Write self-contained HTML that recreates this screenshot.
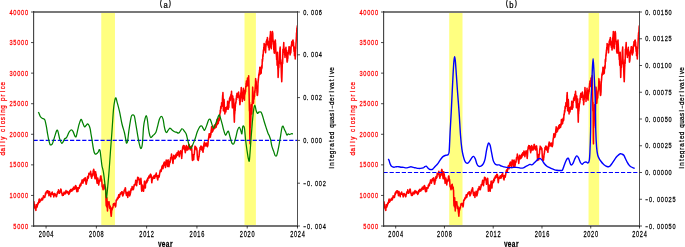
<!DOCTYPE html>
<html><head><meta charset="utf-8"><style>
html,body{margin:0;padding:0;background:#fff;width:685px;height:247px;overflow:hidden}
svg{display:block;will-change:transform}
</style></head><body>
<svg width="685" height="247" viewBox="0 0 685 247"><clipPath id="ca"><rect x="33.5" y="12.0" width="264.0" height="214.0"/></clipPath><rect x="101.26" y="12.0" width="13.7" height="214.0" fill="#ffff80"/><rect x="244.51" y="12.0" width="11.38" height="214.0" fill="#ffff80"/><path clip-path="url(#ca)" d="M33.53 203.95L33.57 203.83L33.67 202.99L33.74 203.44L33.95 201.85L33.98 202.78L34.02 202.98L34.26 204.95L34.29 204.39L34.4 205.46L34.64 207.53L34.67 207.68L34.71 207.35L34.95 207.67L34.98 208.36L35.19 208.72L35.22 207.76L35.26 208.27L35.36 208.59L35.39 208.28L35.64 209.09L35.67 209.7L35.88 210.37L35.95 209.01L35.98 208.04L36.22 204.45L36.32 205.4L36.57 207.6L36.6 207.59L36.63 207.57L36.94 206.14L37.05 206.63L37.12 206.96L37.19 205.83L37.29 206.17L37.32 205.84L37.6 204.54L37.63 204.51L37.67 204.97L37.87 203.37L37.91 203.75L38.01 203.4L38.08 203.43L38.15 202.63L38.25 202.81L38.29 202.85L38.39 203.53L38.56 202.22L38.6 202.69L38.63 202.77L38.87 200.83L38.98 200.56L39.25 199.28L39.29 199.04L39.6 201.24L39.7 202.11L39.8 201.59L39.84 201.66L39.94 201.87L40.25 200.67L40.29 200.93L40.32 200.36L40.56 200.86L40.66 200.62L40.7 200.64L40.91 199.68L40.94 199.82L41.18 200.16L41.22 199.03L41.25 199.4L41.28 199.75L41.42 199.15L41.53 199.92L41.63 199.83L41.87 198.3L41.9 198.61L41.94 198.96L42.15 199.94L42.21 199.38L42.25 199.24L42.49 199.89L42.59 199.26L42.66 198.52L42.73 199.34L42.87 198.7L42.9 198.49L43.18 197.06L43.21 197.43L43.32 197.28L43.45 195.89L43.56 196.45L43.59 196.79L43.69 196L43.87 197.5L43.9 197.33L44.04 197.44L44.18 197.05L44.28 197.37L44.42 196.55L44.52 196.75L44.56 197.11L44.8 197.47L44.87 196.35L44.9 196.97L45.14 195.58L45.24 195.15L45.28 195.39L45.49 193.04L45.52 193.61L45.55 193.52L45.62 194.62L45.83 193.04L45.86 193.21L45.97 193.19L46.04 192.37L46.11 192.47L46.21 191.92L46.24 191.84L46.52 192.73L46.55 192.84L46.83 191.25L46.93 191.07L47.17 192.69L47.2 192.72L47.48 190.82L47.51 190.93L47.55 191.93L47.75 192.33L47.79 191.51L47.89 192.11L48.13 191.05L48.17 191.33L48.2 191.29L48.48 193.7L48.51 192.92L48.75 194.06L48.85 194.71L48.92 195.72L49.16 192.43L49.2 192.44L49.4 192.64L49.47 191.51L49.57 191.76L49.71 193.8L49.82 193.56L49.85 193.5L49.88 192.89L50.16 193.68L50.19 194.02L50.4 194.94L50.43 194.83L50.54 195.43L50.78 196.68L50.81 195.7L50.85 195.46L51.09 193.73L51.12 193.77L51.15 193.54L51.29 194.43L51.36 193.32L51.4 193.97L51.5 194.13L51.6 194.15L51.77 192.71L51.81 192.91L51.84 193.1L51.98 193.27L52.12 192.43L52.22 192.36L52.25 192.08L52.46 193.39L52.49 193.68L52.53 194.18L52.6 193.52L52.77 194.1L52.8 194.37L52.98 193.82L53.01 194.67L53.08 194.18L53.18 194L53.42 195.26L53.46 195.07L53.49 194.94L53.77 196.26L53.8 196.88L54.04 195.37L54.14 194.99L54.18 195.56L54.42 194.25L54.45 193.64L54.52 193.99L54.76 193.96L54.86 194.2L54.97 193.64L55.1 193.87L55.14 194.11L55.41 194.77L55.45 194.58L55.69 195.17L55.72 195.01L55.83 195.05L56.07 196.3L56.1 195.95L56.31 196.77L56.41 196.52L56.44 196.1L56.58 196.52L56.69 194.98L56.79 195.09L56.82 195.09L56.89 194.21L57.06 194.49L57.1 194.46L57.37 192.51L57.41 192.82L57.51 192.31L57.61 193.12L57.75 192.8L57.78 193.3L57.85 191.63L58.06 192.43L58.09 191.99L58.27 192.3L58.37 190.87L58.47 190.55L58.51 189.77L58.61 190.71L58.71 190.62L58.75 190.92L58.85 190.79L59.06 191.96L59.09 192.17L59.26 191.98L59.3 192.84L59.33 192.34L59.44 193.32L59.68 191.94L59.71 192.04L59.75 191.82L59.81 191.49L59.92 191.98L60.05 191.94L60.16 191.57L60.23 192.08L60.26 191.24L60.3 191.97L60.4 190.99L60.71 189.7L60.74 189.09L60.88 189.01L61.02 190.01L61.12 189.62L61.36 191.69L61.4 192.15L61.5 192.84L61.64 192.15L61.71 192.7L61.74 193.14L61.98 193.68L62.09 194.21L62.16 194.17L62.19 195.19L62.36 194.88L62.4 195.47L62.64 194.62L62.67 194.93L62.71 194.28L62.84 194.16L62.91 195.26L62.95 195.05L63.05 195.1L63.15 194.4L63.29 195.33L63.33 195L63.36 194.14L63.4 194.34L63.53 193.28L63.67 193.44L63.77 193.26L64.02 192.48L64.05 192.22L64.12 192.08L64.26 192.94L64.33 192.21L64.36 193.37L64.6 193.98L64.64 193.68L64.74 193.71L64.77 193.3L64.98 194.02L65.01 193.94L65.22 193.3L65.32 193.51L65.36 193.03L65.53 193.6L65.6 191.94L65.7 192.52L65.98 190.52L66.01 191.08L66.32 192.06L66.43 191.93L66.46 192.06L66.53 191.69L66.56 191.99L66.67 191.77L66.7 191.29L66.98 192.39L67.01 192.67L67.25 191.87L67.29 192.09L67.39 192.33L67.63 191.53L67.67 191.51L67.74 191.5L67.91 192.46L67.98 192.14L68.01 192.06L68.18 193.44L68.25 193.18L68.36 193.14L68.46 193.56L68.6 193.03L68.63 193.24L68.67 194.05L68.73 194.38L68.87 193.35L68.94 193.38L68.98 193.37L69.18 192.93L69.22 193.07L69.32 192.86L69.35 193.61L69.6 191.28L69.63 191.75L69.66 191.38L69.7 191.41L69.87 190.5L69.94 190.88L70.04 191.64L70.08 192.11L70.15 191.09L70.28 191.38L70.32 190.58L70.39 191.4L70.59 189.66L70.63 190.18L70.66 189.61L70.87 190.84L70.9 190.38L71.01 190.76L71.15 189.65L71.25 189.8L71.28 189.47L71.56 191.11L71.59 190.98L71.63 190.95L71.87 190.04L71.97 189.92L72.01 189.66L72.08 190.88L72.25 189.88L72.28 190.14L72.56 188.79L72.59 189.26L72.7 189.28L72.8 188.88L72.83 189.25L72.94 188.71L73.04 189.97L73.25 189.43L73.28 189.21L73.42 189.26L73.49 187.32L73.56 188.34L73.66 187.97L73.73 187.99L73.9 187.32L73.94 187.85L73.97 187.35L74.04 188.91L74.25 188.27L74.28 188.75L74.42 187.95L74.49 188.75L74.52 188.7L74.62 188.43L74.69 189.14L74.76 188.33L74.9 188.38L74.93 188.24L74.97 188.79L75.18 186.33L75.21 186.84L75.24 186.59L75.35 185.95L75.42 187.06L75.49 186.47L75.59 186.3L75.66 185.5L75.9 186.26L75.93 186.28L76.14 186.26L76.21 187.36L76.31 187.52L76.55 189.68L76.59 190.31L76.62 189.73L76.86 191.68L76.9 191.38L77.17 189.13L77.28 189.13L77.31 188.23L77.41 189.14L77.52 188.64L77.55 188.33L77.59 187.86L77.86 190.95L77.9 191.44L78.1 189.26L78.14 189.36L78.24 189.23L78.48 187.87L78.52 188.58L78.55 188.56L78.79 188.01L78.86 188.29L78.96 188.13L79 188.24L79.07 187.51L79.1 188.12L79.2 188.12L79.24 188.18L79.51 187.48L79.55 186.57L79.69 185.34L79.82 185.79L79.93 184.93L80 185.74L80.17 185.7L80.2 185.3L80.41 184.1L80.51 185.91L80.55 185.02L80.65 184.92L80.72 185.47L80.79 185L80.89 185.5L81.13 183.72L81.17 183.85L81.2 183.88L81.41 182.44L81.48 182.81L81.51 183.22L81.68 181.89L81.75 182.18L81.86 181.93L81.89 182.24L81.99 180.06L82.17 180.66L82.2 180.55L82.34 179.9L82.48 182.14L82.58 181.43L82.65 181.8L82.72 180.92L82.82 181.55L82.86 182.25L82.89 181.88L82.96 183.23L83.13 182.05L83.17 182.25L83.44 180.54L83.54 179.77L83.65 180.55L83.68 179.52L83.79 180.03L83.82 178.95L84.1 180.45L84.13 180.42L84.16 180.15L84.3 178.47L84.41 179.49L84.51 179.48L84.65 178.38L84.78 178.71L84.82 179.15L84.89 180.77L85.13 178.4L85.23 179.3L85.3 177.66L85.37 178.27L85.47 177.98L85.78 182.06L85.82 182.17L86.06 184.07L86.09 184.01L86.2 183.38L86.27 184.14L86.33 183.3L86.44 183.42L86.47 182.54L86.54 182.58L86.75 181.36L86.78 181.6L86.82 180.92L86.99 179.69L87.06 179.83L87.16 180.3L87.23 180.5L87.44 178.55L87.47 177.56L87.51 176.81L87.64 177.83L87.75 177.2L87.78 176.84L87.92 176.3L88.02 176.7L88.13 176.17L88.26 178.18L88.44 176.46L88.47 177.52L88.75 174.58L88.85 173.56L88.92 173.33L88.99 174.17L89.09 174.13L89.12 173.71L89.37 174.59L89.4 174.17L89.43 173.81L89.61 173.66L89.71 174.49L89.81 174.13L89.88 174.56L90.09 173.12L90.12 173.41L90.19 173.55L90.4 172.85L90.43 172.38L90.61 171.29L90.67 172.43L90.78 172.45L91.05 176.38L91.09 176.43L91.26 174.55L91.4 176.41L91.5 176.86L91.6 178.27L91.64 178.09L91.74 177.39L91.98 175.82L92.05 176.61L92.09 176.62L92.26 174.01L92.36 175.16L92.47 175.21L92.71 174.49L92.74 175.33L92.78 175.43L93.05 172.14L93.09 171.43L93.19 171.72L93.33 170.38L93.43 170.68L93.71 169.38L93.74 169.41L93.98 171.42L94.05 171.22L94.15 172.7L94.19 171.08L94.29 173.36L94.39 173.77L94.7 176.63L94.74 176.91L95.01 178.74L95.12 178.2L95.25 175.86L95.36 176.71L95.39 175.12L95.63 171.77L95.67 172.72L95.7 173.63L95.91 175.32L95.98 174.71L96.08 173.96L96.36 176.14L96.39 176.38L96.67 179.58L96.7 179.95L96.94 181.93L97.04 182.55L97.08 183.33L97.32 180.4L97.35 180.59L97.52 178.42L97.66 179.26L97.77 178.88L97.8 178.01L98.01 179.92L98.04 179.88L98.07 179.77L98.31 180.74L98.35 181.21L98.62 183.99L98.73 185.05L98.83 183.37L98.97 183.55L99 182.78L99.07 182.95L99.31 181.54L99.35 180.78L99.45 181.71L99.59 180.44L99.69 180.76L99.72 180.13L99.96 181.17L100 180.59L100.31 177.91L100.41 177.48L100.48 177.51L100.51 176.33L100.55 176.51L100.65 177.59L100.96 175.9L100.99 176.02L101.27 179.39L101.37 179.63L101.41 179.99L101.48 178.99L101.61 179.5L101.65 179.76L101.96 183.19L101.99 183.73L102.2 186.69L102.23 186.13L102.33 185.92L102.57 187.21L102.61 187.15L102.64 187.58L102.68 187.44L102.95 188.96L103.06 189.46L103.09 189.66L103.12 188.54L103.19 188.97L103.3 189.16L103.33 189.21L103.6 187.03L103.64 186.94L103.67 188.16L103.88 185.15L103.91 185.36L104.02 184.51L104.09 185.99L104.26 185.01L104.29 185.52L104.39 184.28L104.53 186.58L104.6 186.16L104.64 185.93L104.88 188.07L104.98 188.04L105.08 189.24L105.25 188.72L105.29 187.26L105.36 187.13L105.6 189.87L105.7 190.36L105.73 190.16L105.84 196.72L105.94 198.39L106.18 205.38L106.25 204.63L106.28 205.18L106.56 206.37L106.66 206.65L106.9 199.66L106.94 197.74L107.25 205.36L107.28 206.57L107.49 210.94L107.52 209.21L107.62 207.82L107.9 202.08L107.93 201.74L108.21 202.73L108.24 202.19L108.34 201.97L108.48 203.35L108.59 203.06L108.65 203.43L108.89 202.29L108.93 201.88L109.07 201.77L109.2 204.01L109.31 204.33L109.55 207.17L109.58 207.81L109.65 207.65L109.79 208.43L109.86 208.04L109.89 207.77L110.13 206.22L110.17 206.44L110.27 206.33L110.55 209.51L110.58 209.93L110.86 213.38L110.89 213.36L111.13 215.82L111.24 216.28L111.51 213.02L111.55 212.2L111.82 207.95L111.86 208.43L111.96 209.65L111.99 210.21L112.1 208.93L112.2 209.4L112.34 208.2L112.51 208.42L112.55 207.92L112.58 208.31L112.75 207.16L112.82 207.62L112.92 207.27L112.96 207.46L113.16 205.42L113.2 204.79L113.47 203.87L113.51 204.85L113.54 204.19L113.65 204.35L113.78 203.84L113.89 204.47L114.03 204.96L114.16 204.93L114.2 204.96L114.44 203.26L114.51 204.01L114.61 204.14L114.65 204.72L114.75 204.53L114.85 204.26L114.92 204.01L115.16 205.47L115.2 206.05L115.33 205.71L115.47 206.96L115.58 206.13L115.61 206.65L115.82 205.43L115.85 204.46L116.13 201.74L116.16 200.66L116.2 200.15L116.44 200.49L116.54 200.1L116.68 200.17L116.82 199.81L116.85 199.42L116.88 200.13L117.06 199.1L117.13 199.24L117.16 199.28L117.37 197.96L117.4 198.45L117.5 198.41L117.57 198.99L117.75 198.09L117.78 198.73L117.81 198.16L117.99 197.2L118.12 198.51L118.23 197.97L118.47 196.72L118.5 196.38L118.71 194.83L118.78 195.45L118.81 194.89L118.85 194.67L119.02 196.26L119.09 196.21L119.19 196.38L119.3 197.34L119.43 196.87L119.47 196.24L119.54 196.94L119.78 195.13L119.81 194.61L119.98 194.75L120.05 194.13L120.16 194.69L120.4 193.03L120.43 193.99L120.47 193.36L120.5 194.4L120.78 193.39L120.88 193.06L120.95 193.59L121.02 192.77L121.12 192.98L121.26 192.51L121.36 193.17L121.43 192.52L121.47 192.63L121.5 193.14L121.74 191.68L121.84 191.95L122.09 191.73L122.12 191.9L122.15 191.73L122.43 194.61L122.46 195.24L122.57 194.68L122.64 195.89L122.71 195.71L122.81 195.42L122.84 195.78L122.95 194.94L123.08 195.11L123.12 194.76L123.15 195.05L123.39 193.99L123.43 193.7L123.64 192.49L123.67 192.93L123.77 193.51L124.05 191.3L124.08 190.67L124.12 191.21L124.29 190.06L124.39 190.95L124.5 190.85L124.74 189.99L124.77 189.72L125.01 188.84L125.05 189.39L125.08 188.97L125.25 187.74L125.36 188.44L125.46 188.08L125.7 190.89L125.74 191.09L126.05 194.03L126.08 193.62L126.22 193.33L126.32 194.92L126.43 195.08L126.46 195.43L126.7 194.3L126.74 194.87L126.77 195.12L127.05 193.27L127.15 192.52L127.25 192.83L127.29 192.36L127.39 193.24L127.7 195.99L127.73 196.67L127.77 197.47L127.98 195.36L128.01 195.55L128.11 195.39L128.35 194.01L128.39 194.19L128.7 192.27L128.73 192.27L128.87 192.31L128.97 191.23L129.08 191.31L129.32 193.08L129.35 192.9L129.39 193.81L129.66 195.85L129.7 195.91L129.94 194.91L130.04 194.68L130.11 194.84L130.28 193.55L130.32 193.65L130.35 193.29L130.42 193.46L130.66 192.03L130.76 191.37L130.83 189.74L131.01 190.34L131.04 189.92L131.32 188.48L131.35 189.08L131.38 189.44L131.49 188.45L131.63 188.94L131.73 189.88L131.97 188.54L132 187.97L132.11 186.52L132.31 187.44L132.35 187.56L132.52 188.08L132.56 187.18L132.59 187.28L132.69 187.58L132.97 189.3L133 189.37L133.04 189.08L133.28 189.64L133.31 189.15L133.42 188.65L133.49 189.11L133.55 188.3L133.66 188.4L133.93 185.93L133.97 185.95L134 186.6L134.17 184.75L134.28 185.32L134.38 184.54L134.48 185.68L134.62 185.3L134.66 185.26L134.97 183.96L135 184.04L135.24 183.45L135.35 182.91L135.59 181.4L135.62 181.49L135.66 181.17L135.72 180.23L135.93 181.89L135.97 181.77L136.17 184.14L136.21 184.04L136.31 184.25L136.55 185.33L136.59 184.84L136.62 185.75L136.93 182.44L137.03 182.59L137.07 182.66L137.27 180.23L137.31 180.12L137.55 178.33L137.58 178.34L137.62 177.98L137.65 177.37L137.86 178.87L137.89 178.69L138 178.78L138.07 179.37L138.24 177.5L138.27 178.32L138.31 178.31L138.58 179.59L138.62 179.4L138.72 179.78L138.79 178.09L138.86 178.51L138.96 178.6L139.24 179.71L139.27 179.64L139.58 183.35L139.69 184.17L139.72 184.26L139.82 183L139.93 182.69L140.24 180.86L140.27 180.3L140.31 180.45L140.44 179.46L140.55 180.09L140.65 180.52L140.89 178.29L140.93 178.72L141.24 182.2L141.27 182.63L141.51 188.94L141.61 189.91L141.75 191.22L141.89 189.89L141.92 189.24L142.2 186.37L142.23 186.35L142.44 185.14L142.48 185.91L142.58 186.41L142.89 187.88L142.92 188.26L143.2 190.66L143.3 190.42L143.54 191.29L143.58 191.14L143.85 187.69L143.89 187.7L144.16 184.7L144.27 184.46L144.4 181.36L144.51 181.91L144.54 181.47L144.58 181.15L144.78 184.26L144.85 184.14L144.89 184.85L145.09 187.74L145.13 186.84L145.23 186.85L145.37 188.05L145.51 184.58L145.54 182.54L145.71 182.51L145.82 183.52L145.85 183.23L145.95 183.51L146.06 182.87L146.09 182.99L146.2 182.19L146.33 182.65L146.51 180.61L146.54 180.51L146.81 182.56L146.92 181.9L147.16 180.22L147.19 179.67L147.23 179.31L147.43 181.15L147.5 180.35L147.54 179.49L147.67 179.5L147.71 178.55L147.78 179.16L147.88 180.43L147.98 177.81L148.15 178.39L148.19 178.01L148.46 178.02L148.5 177.71L148.6 177.9L148.74 176.48L148.84 177.55L148.94 176.1L149.15 176.33L149.18 177.63L149.22 177.93L149.46 175.99L149.56 176.1L149.6 176.67L149.8 175.84L149.84 175.91L149.94 177.3L150.08 174.99L150.15 175.1L150.18 174.49L150.35 175.46L150.42 174.24L150.52 174.74L150.59 174.24L150.76 175.01L150.8 174.89L150.83 175.07L150.87 174.59L151.04 175.77L151.11 175.55L151.14 175.34L151.38 177.12L151.49 177.84L151.76 182.6L151.8 182.22L151.83 182.67L151.86 182.72L152.07 180.43L152.1 180.67L152.21 179.7L152.31 178.65L152.45 179.13L152.48 178.44L152.55 179.06L152.72 177.26L152.76 177.71L152.79 177.41L152.83 177.17L153.07 178.39L153.17 178.04L153.2 178.38L153.27 177.21L153.44 177.48L153.48 177.32L153.51 177.71L153.75 176.05L153.79 176.27L153.89 177.01L154.03 176.96L154.13 177.23L154.41 175.84L154.44 176.74L154.47 177.27L154.51 176.74L154.68 178.33L154.75 176.77L154.85 177.67L154.92 177.76L154.99 176.7L155.09 176.86L155.13 176.14L155.2 175.4L155.37 176.18L155.4 175.64L155.44 174.71L155.57 174.6L155.71 176.11L155.81 176.25L156.09 174.39L156.12 173.89L156.29 173L156.4 174.5L156.43 174.74L156.67 176.56L156.78 176.01L156.84 175.5L157.05 176.5L157.08 176.34L157.39 178.87L157.5 177.82L157.74 179.73L157.77 180L158.01 177.81L158.05 178.32L158.08 177.13L158.22 177.35L158.29 175.58L158.36 176.38L158.46 175.82L158.6 177.21L158.7 177.18L158.73 176.35L158.77 177.22L159.04 177.04L159.08 176.46L159.18 176.88L159.32 175.41L159.42 175.36L159.7 173.02L159.73 173.4L160.04 171.45L160.14 171.65L160.21 170.45L160.28 171.1L160.39 170.95L160.45 170.06L160.63 171.71L160.7 170.92L160.73 171.18L160.97 170.49L161.01 171.1L161.11 171.46L161.35 170.55L161.38 170.23L161.69 167.72L161.73 168.4L161.83 168.4L161.9 166.76L161.97 167.03L162.07 166.29L162.11 166.08L162.21 167.92L162.35 167.04L162.38 167.54L162.59 165.52L162.66 165.91L162.69 166.42L162.87 168.7L162.93 168.42L163.04 168.5L163.35 165.48L163.38 165.3L163.59 164.15L163.66 164.34L163.76 164.23L163.8 163.06L164 163.98L164.04 163.43L164.24 163.58L164.28 162.65L164.31 162.82L164.35 161.95L164.59 164.78L164.62 164.59L164.73 165.45L164.76 164.56L164.97 164.91L165 166.27L165.07 165.6L165.28 166.85L165.31 166.74L165.35 166.89L165.48 167.58L165.59 164.93L165.69 164.13L165.83 162.08L165.96 162.31L166 162.21L166.21 160.1L166.31 160.89L166.41 161.31L166.55 160.46L166.65 160.46L166.93 164.49L166.96 163.67L167 164.99L167.17 163.37L167.27 164.24L167.38 164.54L167.51 166.41L167.62 164.92L167.65 165.24L167.69 165.62L167.96 161.33L168 160.06L168.17 159.94L168.24 162.5L168.34 163.08L168.62 165.77L168.65 165.61L168.86 165.92L168.89 165.13L168.93 165.5L168.96 166.69L169.17 164.23L169.2 164.44L169.31 165.25L169.58 161.4L169.62 161.87L169.65 161.84L169.82 162.78L169.89 161.63L169.93 161.64L170.03 162.54L170.27 160.73L170.3 161.28L170.41 158.92L170.58 159.78L170.61 157.85L170.65 158.46L170.89 157.44L170.99 157.18L171.23 157.72L171.27 156.92L171.3 156.53L171.51 154L171.58 154.88L171.61 155.01L171.79 156.45L171.85 156.39L171.96 157.51L172.03 157.78L172.1 156.87L172.23 157.65L172.27 158.32L172.58 160.55L172.68 161.03L172.82 163.04L172.92 162.44L172.99 163.53L173.16 161.12L173.23 161.16L173.27 160.22L173.54 157.77L173.65 158.18L173.78 155.37L173.89 156.9L173.92 156.71L174.23 158.82L174.27 157.48L174.44 157.57L174.47 157.29L174.51 157.49L174.61 158.41L174.89 155.91L174.92 157.57L174.95 156.78L175.2 158.6L175.23 158.25L175.33 158.04L175.37 158.15L175.47 156.3L175.57 156.98L175.61 157.6L175.88 155.16L175.92 154.25L176.16 157.17L176.19 157.06L176.3 156.04L176.33 156.29L176.54 154.78L176.57 154.58L176.61 155.32L176.78 154.4L176.85 154.73L176.88 154.81L177.09 152.67L177.16 154.39L177.26 155.44L177.5 153.43L177.54 153.69L177.57 154.42L177.74 154.94L177.81 153.94L177.85 154.45L177.88 153.97L178.05 152.94L178.12 152.95L178.23 152.04L178.33 151.13L178.5 151.48L178.54 151.43L178.85 153.03L178.95 154.04L178.98 153.89L179.09 155.21L179.19 155.38L179.29 156.63L179.5 155.07L179.54 153.73L179.81 152.64L179.91 152.08L180.05 153.32L180.16 152.43L180.19 152.31L180.4 153.06L180.5 151.23L180.53 150.76L180.71 151.84L180.78 151.09L180.88 152.58L180.95 151.11L181.02 154.08L181.15 152.72L181.19 152.18L181.5 156.36L181.6 157.2L181.71 158.38L181.74 157.31L181.84 156.38L181.88 156.59L182.12 152.64L182.15 152.96L182.19 151.19L182.43 148.96L182.46 149.71L182.57 149.33L182.7 147.08L182.81 147.95L182.84 147.54L182.91 146.63L183.12 148.23L183.15 146.91L183.32 145.59L183.43 147.6L183.53 148.12L183.63 146.3L183.81 146.97L183.84 146.93L183.87 147.64L184.05 145.71L184.12 146.87L184.15 145.77L184.36 149.51L184.39 149.47L184.49 149L184.53 149.52L184.63 147.88L184.77 147.88L184.8 148.68L185.11 151.51L185.22 151.65L185.29 152.63L185.46 150.2L185.49 150.68L185.56 151.48L185.77 149.81L185.8 148.55L185.84 146.65L186.08 147.32L186.18 146.28L186.25 146.68L186.32 145.54L186.42 145.68L186.46 145.95L186.56 148.96L186.77 148.26L186.8 149.4L186.91 150.02L187.04 148.45L187.15 147.72L187.18 147.36L187.42 148.12L187.46 148L187.49 146.94L187.7 150.07L187.77 148.86L187.87 149.54L187.94 147.43L188.01 148.94L188.11 149.08L188.18 147.8L188.42 147.81L188.46 148.58L188.49 148.97L188.73 144.45L188.83 145.75L188.87 145.75L188.9 144.68L189.08 144.84L189.11 144.59L189.35 146.98L189.39 146.67L189.42 147.63L189.66 146.39L189.7 146.6L189.8 147.3L189.94 148.62L190.07 148.61L190.11 149.05L190.38 149.87L190.42 149.05L190.56 149.35L190.59 146.74L190.66 147.2L190.76 147.47L190.8 148.66L191 146.65L191.04 147.03L191.07 147.14L191.31 147.97L191.38 145.91L191.49 146.16L191.59 148.94L191.73 148.46L191.76 148.99L192.04 155.09L192.07 155.23L192.35 160.3L192.45 160.12L192.49 160.44L192.69 154.67L192.73 154.95L192.83 154.41L193.04 157.66L193.07 158.01L193.21 157.46L193.24 158.59L193.31 158.14L193.42 158.86L193.52 158.39L193.69 159.76L193.73 158.79L194 154.29L194.04 154.37L194.14 154.88L194.28 154.15L194.38 153.39L194.62 150.02L194.69 150.81L194.72 149.15L194.9 146.53L195 147.69L195.1 146.15L195.34 147.98L195.38 149.06L195.48 147.5L195.69 148.27L195.72 147.81L195.96 148.72L196.07 147.57L196.1 147.35L196.17 148.72L196.34 148.39L196.38 149L196.41 148.44L196.62 149.99L196.65 149.85L196.69 148.25L196.89 150.09L196.93 150.07L197.03 150.66L197.27 155.88L197.31 155.53L197.34 156.37L197.62 159.72L197.65 159.54L197.75 159.23L197.89 156.51L197.99 156.6L198.03 157.47L198.3 160.51L198.34 160.05L198.61 158.04L198.71 158.08L198.96 156.03L198.99 156.35L199.02 156.97L199.26 153.6L199.3 154.19L199.33 152.65L199.57 150.22L199.68 151.2L199.71 151.3L199.95 148.9L199.99 148.79L200.02 147.57L200.29 149.28L200.4 149.1L200.43 149.23L200.64 146.68L200.67 148.32L200.95 146.03L200.98 146.21L201.26 148.74L201.36 147.08L201.39 146.24L201.6 147.5L201.63 148.28L201.74 150.06L201.94 147.9L201.98 148.02L202.08 148.84L202.22 147.62L202.32 148.19L202.46 147.18L202.6 149.07L202.63 149.52L202.94 152.06L203.04 151.92L203.08 152.28L203.18 149.82L203.28 149.67L203.59 146.82L203.63 145.76L203.8 148.66L203.9 143.74L204 144.11L204.11 143.74L204.14 144.61L204.24 144.33L204.28 143.68L204.35 142.01L204.59 144.16L204.62 144.15L204.79 143.2L204.86 143.94L204.97 143.56L205.07 145.91L205.24 144.34L205.28 145.08L205.34 145.49L205.58 143.46L205.69 143.62L205.72 144.48L205.82 143.55L205.93 143.38L206.07 145.7L206.24 145.6L206.27 145.2L206.41 145.86L206.44 144.16L206.55 144.43L206.65 144L206.68 145.66L206.75 143.12L206.89 143.99L206.92 144.18L207.13 145.22L207.16 143.43L207.23 144.84L207.27 145.06L207.47 146.69L207.51 146.24L207.61 145.68L207.65 145.91L207.75 144.56L207.89 145.31L207.92 145.19L208.23 140.64L208.33 140.52L208.47 139.16L208.57 138.01L208.64 138.23L208.88 136.33L208.92 136.23L209.16 133.72L209.19 135.73L209.29 135.88L209.33 134.78L209.53 136.72L209.57 136.43L209.81 137.5L209.88 135.72L209.91 136.96L210.15 134.88L210.26 134.52L210.36 137.07L210.53 135.47L210.57 133.92L210.64 133.03L210.84 134.72L210.88 135.08L211.12 130.86L211.22 129.85L211.29 130.82L211.5 127.96L211.53 127.04L211.57 126.82L211.84 130.52L211.95 131.5L211.98 130.47L212.05 132.15L212.19 130.92L212.22 130.68L212.26 130.61L212.32 131.8L212.5 131.24L212.53 131.16L212.77 128.7L212.81 129.45L212.91 130.18L212.98 131.01L213.15 129.71L213.19 129.99L213.39 127.77L213.5 127.81L213.53 128.5L213.67 127.18L213.77 127.23L213.87 128.17L213.94 129L214.15 125.78L214.18 126.41L214.36 128.17L214.46 126.01L214.49 126.49L214.6 127.49L214.67 128.56L214.74 126.54L214.84 128.09L214.98 124.84L215.15 126.81L215.18 127.34L215.22 127.36L215.46 124.89L215.56 125.43L215.6 127.36L215.8 126.68L215.84 127.51L216.08 125.22L216.15 126.11L216.18 126.69L216.29 127.04L216.42 123.9L216.53 123.46L216.6 125.56L216.8 122.31L216.84 122.98L217.11 119.52L217.15 121.51L217.32 124.41L217.39 123.95L217.49 123.53L217.53 124.27L217.59 122.55L217.77 122.64L217.8 122.76L217.84 123.63L217.87 121.55L218.11 122.31L218.21 123.55L218.32 120.04L218.45 120.52L218.49 121.42L218.52 122.05L218.73 118.18L218.76 118.53L218.8 118.27L219.01 117.98L219.07 119.44L219.18 119.6L219.21 120.41L219.28 119.45L219.42 119.48L219.45 118.17L219.76 113.96L219.8 115.25L219.94 113.57L220.04 113.72L220.14 112.2L220.18 112.27L220.25 110.35L220.42 110.65L220.45 111.31L220.49 112.11L220.76 106.66L220.87 107.85L221 106.23L221.11 108.44L221.42 105.28L221.45 106.15L221.49 106.46L221.59 102.78L221.73 104.29L221.83 104.89L221.93 106.2L222.07 104.06L222.11 103.09L222.21 103.45L222.42 101.29L222.45 99.25L222.69 95.01L222.79 95.27L222.93 92.61L223.07 96.75L223.1 97.83L223.38 110.62L223.41 109.49L223.66 104.53L223.76 104.33L224.07 99.63L224.1 100.23L224.38 106.36L224.48 109.24L224.52 108.78L224.59 111.99L224.72 110.41L224.76 111.63L224.86 113.9L225.03 109.55L225.07 110.49L225.1 108.56L225.34 108.9L225.45 109.17L225.48 109.66L225.55 107.84L225.69 108.39L225.72 110.12L225.83 111.94L226.03 109.88L226.07 109.24L226.24 109.51L226.27 108.7L226.31 109.02L226.41 108.25L226.45 109.41L226.55 107L226.69 108.98L226.72 109.14L226.76 109.31L226.89 106.7L227.03 108.57L227.13 108.09L227.17 108.8L227.24 106.67L227.27 107.11L227.38 106.97L227.62 101.34L227.69 102.89L227.72 104.17L228 107.9L228.1 107.73L228.13 109.2L228.34 108.63L228.37 107.76L228.48 108.24L228.68 107.1L228.72 105.87L228.82 107.58L228.96 102.26L229.06 103.56L229.34 100.57L229.37 99.96L229.41 101.76L229.58 98.4L229.65 98.88L229.68 99.57L229.79 100.73L229.92 97.55L230.03 99.4L230.06 97.15L230.34 100.34L230.37 98.7L230.58 96.05L230.65 97.08L230.75 97.6L230.99 94.23L231.03 95.86L231.1 94.98L231.13 96.46L231.3 95.59L231.34 95.53L231.54 91.24L231.61 95.82L231.72 95.57L231.78 94.71L231.96 98.12L231.99 99.69L232.3 106.79L232.34 106.81L232.44 107.85L232.58 100.46L232.68 99.9L232.78 95.97L232.96 100.9L232.99 100.61L233.02 100L233.3 107.33L233.4 107.08L233.54 98.76L233.64 99.21L233.71 98.95L233.95 112.06L233.99 113.98L234.26 120.15L234.37 122.16L234.61 112.45L234.64 114.03L234.68 114.15L234.95 110.8L234.99 109.62L235.13 110.62L235.23 107.29L235.33 106.92L235.44 103.54L235.61 104.06L235.64 102.59L235.68 103.92L235.88 102.51L235.92 102.6L235.95 101.58L236.05 102.04L236.19 98.28L236.3 98.73L236.33 100.29L236.54 95.41L236.61 99.4L236.64 98.51L236.92 93.6L237.02 93.44L237.09 96.23L237.26 95.2L237.29 95.22L237.4 94.17L237.57 96.95L237.6 95.39L237.81 97.25L237.88 96.48L237.98 96.14L238.02 96.18L238.05 92.96L238.26 94.23L238.29 94.55L238.36 94.83L238.57 93.01L238.6 92.05L238.84 96.46L238.95 96.06L239.05 95.11L239.22 98.47L239.26 98.39L239.5 98.08L239.53 100.83L239.57 100.33L239.67 99.33L239.81 103.19L239.91 104.6L240.22 101.33L240.26 100.74L240.5 98.11L240.53 98.58L240.64 97.18L240.67 97.44L240.77 93.07L240.88 93.82L240.91 93.93L241.22 87.94L241.26 87.44L241.46 91.59L241.5 90.19L241.6 92.69L241.67 92.37L241.7 93.72L241.88 92.42L241.91 92.23L242.19 97.39L242.22 98.51L242.32 101.38L242.46 98.53L242.56 97.31L242.6 98.12L242.84 95.02L242.87 95.62L242.91 95.48L243.05 95.98L243.18 92.23L243.29 90.46L243.39 88.28L243.53 92.3L243.56 91.81L243.6 90.36L243.84 95.16L243.87 94.52L244.01 98.95L244.15 95.67L244.25 96.75L244.49 100.14L244.53 98.29L244.56 97.64L244.63 94.39L244.84 94.79L244.87 94L245.08 89.95L245.11 90.92L245.22 91.61L245.25 93.22L245.46 89.44L245.49 90.59L245.53 89.76L245.56 91.71L245.73 86.55L245.84 87.02L245.94 85.88L246.01 86.07L246.08 83.2L246.18 83.66L246.22 85.16L246.42 80.95L246.49 82.62L246.53 83.66L246.7 86.55L246.8 83L246.9 83.35L247.04 81.5L247.15 82.38L247.18 81.11L247.28 83.22L247.49 78.05L247.52 79.75L247.63 79.67L247.73 81.02L247.76 79.92L247.87 80.42L247.94 78.85L248 81.81L248.14 80.86L248.18 80.42L248.24 85.63L248.49 79.15L248.59 80.15L248.66 75.69L248.73 78.48L248.83 80.3L249.14 95.11L249.17 97.7L249.45 111.26L249.55 110.58L249.58 102.58L249.79 132.96L249.82 135.53L250.03 143.85L250.13 119.45L250.17 123.45L250.34 128.02L250.41 124.91L250.51 125.04L250.55 125.94L250.79 119.4L250.82 118.99L251.1 108.5L251.13 109.06L251.23 109.21L251.3 104.75L251.37 105.88L251.47 106.02L251.78 113.7L251.82 113.98L252.09 105.53L252.19 103.83L252.44 99.06L252.47 96.16L252.68 87.15L252.78 90.97L252.81 90.37L253.05 99.04L253.16 99.54L253.26 102.72L253.43 101.18L253.47 103.15L253.74 97.85L253.77 98.93L253.88 99.43L253.95 98.17L254.02 98.85L254.12 97.99L254.43 96.16L254.46 96.68L254.63 91.54L254.74 92.95L254.84 92.65L254.87 93.15L254.91 90.11L255.08 91.12L255.11 88.97L255.39 84.22L255.42 86.03L255.63 78.65L255.7 79.21L255.8 79.6L256.08 82.74L256.11 81.63L256.14 81.33L256.39 86.69L256.42 85.76L256.56 88.44L256.66 88.23L256.76 88.42L257 92.79L257.04 92.44L257.07 94.13L257.24 95.43L257.35 93.32L257.38 94.53L257.48 93.17L257.52 95.11L257.72 91.35L257.76 91.83L257.79 92.57L258.03 81.43L258.07 82.09L258.1 82.66L258.31 79.02L258.34 80.47L258.45 78.65L258.69 76.71L258.72 75.31L258.96 73.75L259 75.39L259.03 75.3L259.06 74.35L259.24 74.72L259.27 72.15L259.3 72.17L259.41 72.44L259.44 73.86L259.51 70.31L259.68 72.99L259.72 70.46L259.79 67.18L260.03 67.42L260.13 68.41L260.27 72.03L260.37 71.79L260.51 73.96L260.68 72.72L260.72 71.8L260.75 73.2L260.99 69.11L261.09 68.81L261.2 73.14L261.34 68.38L261.37 67.48L261.58 66.51L261.65 68.86L261.68 67.93L261.71 66.79L261.82 65.52L261.96 68.16L262.06 67.04L262.3 59.33L262.33 60.43L262.37 59.5L262.4 61.79L262.68 59.13L262.78 58.55L262.85 54.76L262.92 55.59L263.02 56.45L263.33 52.03L263.37 50.52L263.4 51.48L263.61 49.23L263.64 49.55L263.75 49.32L263.78 47.24L263.82 50.26L263.99 48.86L264.02 47.31L264.09 43.63L264.3 47.1L264.33 45.55L264.5 44.65L264.57 48.8L264.61 48.77L264.71 46.89L264.81 47.52L264.99 44.46L265.02 45.94L265.23 49.27L265.3 48.47L265.33 51L265.43 50.27L265.57 52.74L265.68 50.99L265.92 44.86L265.95 46.86L265.99 45.71L266.02 45.9L266.26 41.45L266.3 41.49L266.4 41.56L266.47 44.14L266.54 40.75L266.64 41.35L266.67 41.98L266.78 39.8L266.95 41.64L266.98 42.54L267.12 42.68L267.26 39.28L267.36 38.68L267.4 37.47L267.5 39.07L267.6 38.52L267.64 40.93L267.67 45.09L267.95 43.97L267.98 43.47L268.12 41.06L268.22 43.81L268.33 41.84L268.47 47.16L268.6 45.81L268.64 44.5L268.84 43.94L268.95 46.54L269.05 47.74L269.12 50.03L269.19 49.35L269.29 49.17L269.43 43.7L269.6 46.77L269.64 47.32L269.91 37.84L270.02 38.77L270.05 38.81L270.12 35.73L270.26 35.87L270.29 34.41L270.33 36.11L270.5 31.41L270.57 34.42L270.6 35.86L270.88 41.74L270.98 42.87L271.12 47.69L271.25 46.39L271.29 48.2L271.32 48.71L271.56 44.02L271.6 44.16L271.81 40.45L271.84 40.96L271.94 40.78L272.22 32.02L272.25 32.36L272.43 31.47L272.56 35.84L272.67 34.05L272.74 32.87L272.91 39.32L272.94 39.6L273.01 39.21L273.05 41.11L273.22 40.92L273.25 41.38L273.39 41L273.49 44.52L273.53 42.92L273.63 42.62L273.77 49.64L273.87 49.55L273.91 49.28L274.22 52.96L274.25 52.16L274.39 53.24L274.49 48.59L274.6 48.22L274.87 42.63L274.91 41.58L275.18 43.32L275.22 40.31L275.32 41.69L275.35 39.98L275.46 43.68L275.56 43.36L275.87 50.74L275.9 51.78L275.94 51.53L276.15 54.03L276.18 52.74L276.28 53.09L276.52 57.19L276.56 54.83L276.63 59.6L276.87 56.8L276.9 57.23L277.11 65.32L277.14 63.61L277.25 62.01L277.52 53.46L277.56 54.82L277.59 52.16L277.83 66.25L277.87 69.17L277.97 69.09L278.11 77.39L278.21 76.22L278.49 68.22L278.52 67.6L278.69 66.12L278.83 67.69L278.94 65.44L279.07 61.92L279.18 63.88L279.21 61.79L279.31 61.93L279.49 59.34L279.52 57.82L279.8 51.38L279.9 49.81L279.93 51.21L279.97 48.33L280.14 49.06L280.18 46.91L280.49 59.67L280.52 59.35L280.76 63.81L280.86 64.41L280.93 62.5L281.14 67.23L281.17 66.89L281.48 77.49L281.59 78.59L281.62 78.28L281.73 81.79L281.83 79.81L282.14 70.04L282.17 68.36L282.45 59.8L282.55 60.16L282.66 63.37L282.79 55.11L282.83 54.66L282.93 49.28L283.14 50.36L283.17 51.27L283.41 48.84L283.52 47.34L283.76 42.44L283.79 43.53L283.83 45.65L284 50.28L284.1 49.09L284.14 48.68L284.34 52.67L284.38 52.02L284.48 51.72L284.62 54.99L284.76 52.58L284.79 54.31L285 57.51L285.1 54.33L285.2 55.46L285.27 51.21L285.45 52.45L285.48 53.09L285.76 47.92L285.79 49.73L285.96 47.36L286.03 50.13L286.07 49.24L286.17 50.42L286.2 49.9L286.27 52.86L286.41 52.08L286.44 52.6L286.51 51.9L286.75 56.68L286.79 56.83L287.03 61.42L287.13 62.02L287.17 62.1L287.41 60.09L287.44 61.26L287.68 57.92L287.75 58.65L287.86 57.79L287.99 52.56L288.1 53.89L288.13 54.33L288.41 50.39L288.44 50.22L288.65 52.63L288.72 50.66L288.82 50.49L288.96 46.66L289.06 47.43L289.1 47.19L289.37 51L289.41 49L289.44 48.23L289.58 47.05L289.68 49.45L289.78 50.32L290.03 54.66L290.06 52.86L290.09 54.91L290.37 51.69L290.4 50.24L290.65 51.72L290.75 52.54L290.78 53.01L291.06 48.99L291.09 47.1L291.37 45.16L291.47 44.53L291.61 46.48L291.71 42.23L291.75 41.89L291.95 43.58L292.02 41.47L292.06 41.55L292.26 41.53L292.33 45.54L292.44 43.47L292.47 45.34L292.57 40.63L292.68 40.86L292.71 40.35L292.75 43.83L293.02 40.14L293.06 40.13L293.26 44.46L293.3 44.33L293.4 44.08L293.47 42.1L293.64 45.49L293.68 45.26L293.71 46.67L294.02 51.49L294.12 48.85L294.19 46.87L294.26 50.35L294.37 51.66L294.47 55.74L294.68 51.93L294.71 54.4L294.85 52.88L294.95 56.12L294.99 55.87L295.09 53.42L295.23 58.92L295.33 56.64L295.36 56.65L295.64 49.93L295.67 50.26L295.71 47.32L295.81 48.85L295.95 43.48L296.05 43.01L296.33 37.92L296.36 37.04L296.4 37.2L296.54 32.71L296.64 33.49L296.67 33.7L296.91 28.12L297.02 29.41L297.33 25.9L297.36 27.77L297.4 27.63" fill="none" stroke="#ff0000" stroke-width="1.55" stroke-linejoin="round"/><line x1="33.5" y1="140.4" x2="297.5" y2="140.4" stroke="#0000ff" stroke-width="1.2" stroke-dasharray="4.2 1.889"/><path clip-path="url(#ca)" d="M38.3 112.1C38.43 112.32 38.77 112.67 39.1 113.4C39.43 114.13 39.78 115.7 40.3 116.5C40.82 117.3 41.6 117.8 42.2 118.2C42.8 118.6 43.42 118.5 43.9 118.9C44.38 119.3 44.68 119.3 45.1 120.6C45.52 121.9 45.98 124.47 46.4 126.7C46.82 128.93 47.2 131.77 47.6 134C48 136.23 48.4 138.37 48.8 140.1C49.2 141.83 49.6 143.6 50 144.4C50.4 145.2 50.8 145.02 51.2 144.9C51.6 144.78 52 144.5 52.4 143.7C52.8 142.9 53.18 141.4 53.6 140.1C54.02 138.8 54.37 137.52 54.9 135.9C55.43 134.28 56.28 131.12 56.8 130.4C57.32 129.68 57.52 130.18 58 131.6C58.48 133.02 59.08 136.97 59.7 138.9C60.32 140.83 61.08 142.8 61.7 143.2C62.32 143.6 62.92 142.02 63.4 141.3C63.88 140.58 64.08 139.52 64.6 138.9C65.12 138.28 65.9 138.42 66.5 137.6C67.1 136.78 67.72 135 68.2 134C68.68 133 68.87 132.28 69.4 131.6C69.93 130.92 70.78 129.9 71.4 129.9C72.02 129.9 72.53 130.6 73.1 131.6C73.67 132.6 74.28 135.1 74.8 135.9C75.32 136.7 75.68 137.53 76.2 136.4C76.72 135.27 77.42 131.12 77.9 129.1C78.38 127.08 78.57 125.92 79.1 124.3C79.63 122.68 80.48 119.6 81.1 119.4C81.72 119.2 82.23 121.88 82.8 123.1C83.37 124.32 83.97 126.3 84.5 126.7C85.03 127.1 85.47 125.98 86 125.5C86.53 125.02 87.13 123.68 87.7 123.8C88.27 123.92 88.97 125.25 89.4 126.2C89.83 127.15 90.03 128.2 90.3 129.5C90.57 130.8 90.68 132.07 91 134C91.32 135.93 91.85 138.92 92.2 141.1C92.55 143.28 92.78 145.28 93.1 147.1C93.42 148.92 93.78 150.88 94.1 152C94.42 153.12 94.7 153.43 95 153.8C95.3 154.17 95.55 154.3 95.9 154.2C96.25 154.1 96.7 153.57 97.1 153.2C97.5 152.83 97.93 152.6 98.3 152C98.67 151.4 99 149.8 99.3 149.6C99.6 149.4 99.87 149.8 100.1 150.8C100.33 151.8 100.5 153.98 100.7 155.6C100.9 157.22 101.08 158.77 101.3 160.5C101.52 162.23 101.63 163.97 102 166C102.37 168.03 102.95 169.15 103.5 172.7C104.05 176.25 104.85 183.35 105.3 187.3C105.75 191.25 105.97 194.78 106.2 196.4C106.43 198.02 106.47 198.4 106.7 197C106.93 195.6 107.3 191.17 107.6 188C107.9 184.83 108.22 181.33 108.5 178C108.78 174.67 108.97 172.53 109.3 168C109.63 163.47 110.1 156.3 110.5 150.8C110.9 145.3 111.4 139.07 111.7 135C112 130.93 112 130.67 112.3 126.4C112.6 122.13 113.1 113.65 113.5 109.4C113.9 105.15 114.3 102.83 114.7 100.9C115.1 98.97 115.5 97.6 115.9 97.8C116.3 98 116.48 99.75 117.1 102.1C117.72 104.45 118.78 108.25 119.6 111.9C120.42 115.55 121.2 120.57 122 124C122.8 127.43 123.8 130.07 124.4 132.5C125 134.93 125.27 136.85 125.6 138.6C125.93 140.35 126.07 142.6 126.4 143C126.73 143.4 127.2 142.95 127.6 141C128 139.05 128.32 134.73 128.8 131.3C129.28 127.87 130.02 123.03 130.5 120.4C130.98 117.77 131.1 116.32 131.7 115.5C132.3 114.68 133.48 114.48 134.1 115.5C134.72 116.52 134.78 118.17 135.4 121.6C136.02 125.03 137.12 132.25 137.8 136.1C138.48 139.95 138.97 142.63 139.5 144.7C140.03 146.77 140.52 148.68 141 148.5C141.48 148.32 141.97 147.25 142.4 143.6C142.83 139.95 143.18 130.65 143.6 126.6C144.02 122.55 144.48 121.13 144.9 119.3C145.32 117.47 145.7 115.6 146.1 115.6C146.5 115.6 146.9 117.07 147.3 119.3C147.7 121.53 148.1 126.37 148.5 129C148.9 131.63 149.3 133.68 149.7 135.1C150.1 136.52 150.28 137.5 150.9 137.5C151.52 137.5 152.58 135.92 153.4 135.1C154.22 134.28 155.12 134.02 155.8 132.6C156.48 131.18 156.9 128.82 157.5 126.6C158.1 124.38 158.75 121 159.4 119.3C160.05 117.6 160.78 116.4 161.4 116.4C162.02 116.4 162.62 117.6 163.1 119.3C163.58 121 163.9 124.62 164.3 126.6C164.7 128.58 165.1 130.22 165.5 131.2C165.9 132.18 166.3 132.6 166.7 132.5C167.1 132.4 167.4 131.32 167.9 130.6C168.4 129.88 169.2 128.5 169.7 128.2C170.2 127.9 170.4 128.4 170.9 128.8C171.4 129.2 172.08 130.1 172.7 130.6C173.32 131.1 173.98 131.53 174.6 131.8C175.22 132.07 175.8 131.98 176.4 132.2C177 132.42 177.7 133.05 178.2 133.1C178.7 133.15 179 132.92 179.4 132.5C179.8 132.08 180.2 131.22 180.6 130.6C181 129.98 181.38 129 181.8 128.8C182.22 128.6 182.68 129 183.1 129.4C183.52 129.8 183.78 130.45 184.3 131.2C184.82 131.95 185.68 132.65 186.2 133.9C186.72 135.15 187 137.08 187.4 138.7C187.8 140.32 188.2 142.18 188.6 143.6C189 145.02 189.4 146.4 189.8 147.2C190.2 148 190.6 148.6 191 148.4C191.4 148.2 191.58 147.42 192.2 146C192.82 144.58 194.07 141.57 194.7 139.9C195.33 138.23 195.55 137.42 196 136C196.45 134.58 196.75 132.97 197.4 131.4C198.05 129.83 199.17 127.48 199.9 126.6C200.63 125.72 201.2 125.7 201.8 126.1C202.4 126.5 203.02 128.32 203.5 129C203.98 129.68 204.17 130.8 204.7 130.2C205.23 129.6 206.08 127.02 206.7 125.4C207.32 123.78 207.83 121.52 208.4 120.5C208.97 119.48 209.58 118.9 210.1 119.3C210.62 119.7 210.98 121.48 211.5 122.9C212.02 124.32 212.72 127.18 213.2 127.8C213.68 128.42 213.87 127.62 214.4 126.6C214.93 125.58 215.78 123.32 216.4 121.7C217.02 120.08 217.62 118.03 218.1 116.9C218.58 115.77 218.9 114.7 219.3 114.9C219.7 115.1 220.02 116.57 220.5 118.1C220.98 119.63 221.67 122.08 222.2 124.1C222.73 126.12 223.17 128.37 223.7 130.2C224.23 132.03 224.83 134.7 225.4 135.1C225.97 135.5 226.58 133.22 227.1 132.6C227.62 131.98 227.98 130.58 228.5 131.4C229.02 132.22 229.63 135.55 230.2 137.5C230.77 139.45 231.28 142.08 231.9 143.1C232.52 144.12 233.25 144.53 233.9 143.6C234.55 142.67 235.2 139.73 235.8 137.5C236.4 135.27 236.93 131.93 237.5 130.2C238.07 128.47 238.67 127.1 239.2 127.1C239.73 127.1 240.25 129.07 240.7 130.2C241.15 131.33 241.55 134.5 241.9 133.9C242.25 133.3 242.38 127.62 242.8 126.6C243.22 125.58 243.93 125.57 244.4 127.8C244.87 130.03 245.15 136.12 245.6 140C246.05 143.88 246.63 147.95 247.1 151.1C247.57 154.25 248.03 157.23 248.4 158.9C248.77 160.57 249.03 162.03 249.3 161.1C249.57 160.17 249.7 157.18 250 153.3C250.3 149.42 250.73 142.7 251.1 137.8C251.47 132.9 251.8 128.4 252.2 123.9C252.6 119.4 253.07 113.95 253.5 110.8C253.93 107.65 254.35 105 254.8 105C255.25 105 255.75 109.4 256.2 110.8C256.65 112.2 257.07 113.18 257.5 113.4C257.93 113.62 258.23 112.32 258.8 112.1C259.37 111.88 260.33 111.67 260.9 112.1C261.47 112.53 261.67 113.17 262.2 114.7C262.73 116.23 263.43 119.1 264.1 121.3C264.77 123.5 265.55 125.92 266.2 127.9C266.85 129.88 267.48 131.88 268 133.2C268.52 134.52 268.87 134.72 269.3 135.8C269.73 136.88 270.17 137.95 270.6 139.7C271.03 141.45 271.37 144.32 271.9 146.3C272.43 148.28 273.27 150.07 273.8 151.6C274.33 153.13 274.62 154.85 275.1 155.5C275.58 156.15 276.22 156.37 276.7 155.5C277.18 154.63 277.57 152.27 278 150.3C278.43 148.33 278.87 146.12 279.3 143.7C279.73 141.28 280.17 138.43 280.6 135.8C281.03 133.17 281.5 129.52 281.9 127.9C282.3 126.28 282.6 125.88 283 126.1C283.4 126.32 283.87 128.25 284.3 129.2C284.73 130.15 285.17 130.83 285.6 131.8C286.03 132.77 286.45 134.65 286.9 135C287.35 135.35 287.82 133.98 288.3 133.9C288.78 133.82 289.23 134.53 289.8 134.5C290.37 134.47 291.17 133.8 291.7 133.7C292.23 133.6 292.78 133.87 293 133.9" fill="none" stroke="#008000" stroke-width="1.25" stroke-linejoin="round"/><rect x="33" y="11" width="265" height="2" fill="#787878"/><rect x="33" y="225" width="265" height="2" fill="#737373"/><rect x="33" y="11" width="1" height="216" fill="#484848"/><rect x="34" y="11" width="1" height="216" fill="#000" fill-opacity="0.12"/><rect x="297" y="11" width="1" height="216" fill="#505050"/><line x1="31.0" y1="226" x2="33.5" y2="226" stroke="#000" stroke-width="0.7"/><text x="20.92 26.41 31.9 37.39" y="228.55" text-anchor="middle" fill="#ff0000" stroke="#ff0000" stroke-width="0.25" font-size="7.9" font-family='"Liberation Sans", sans-serif' transform="scale(0.7100 1)">5000</text><line x1="31.0" y1="195.43" x2="33.5" y2="195.43" stroke="#000" stroke-width="0.7"/><text x="15.42 20.92 26.41 31.9 37.39" y="197.98" text-anchor="middle" fill="#ff0000" stroke="#ff0000" stroke-width="0.25" font-size="7.9" font-family='"Liberation Sans", sans-serif' transform="scale(0.7100 1)">10000</text><line x1="31.0" y1="164.86" x2="33.5" y2="164.86" stroke="#000" stroke-width="0.7"/><text x="15.42 20.92 26.41 31.9 37.39" y="167.41" text-anchor="middle" fill="#ff0000" stroke="#ff0000" stroke-width="0.25" font-size="7.9" font-family='"Liberation Sans", sans-serif' transform="scale(0.7100 1)">15000</text><line x1="31.0" y1="134.29" x2="33.5" y2="134.29" stroke="#000" stroke-width="0.7"/><text x="15.42 20.92 26.41 31.9 37.39" y="136.84" text-anchor="middle" fill="#ff0000" stroke="#ff0000" stroke-width="0.25" font-size="7.9" font-family='"Liberation Sans", sans-serif' transform="scale(0.7100 1)">20000</text><line x1="31.0" y1="103.71" x2="33.5" y2="103.71" stroke="#000" stroke-width="0.7"/><text x="15.42 20.92 26.41 31.9 37.39" y="106.26" text-anchor="middle" fill="#ff0000" stroke="#ff0000" stroke-width="0.25" font-size="7.9" font-family='"Liberation Sans", sans-serif' transform="scale(0.7100 1)">25000</text><line x1="31.0" y1="73.14" x2="33.5" y2="73.14" stroke="#000" stroke-width="0.7"/><text x="15.42 20.92 26.41 31.9 37.39" y="75.69" text-anchor="middle" fill="#ff0000" stroke="#ff0000" stroke-width="0.25" font-size="7.9" font-family='"Liberation Sans", sans-serif' transform="scale(0.7100 1)">30000</text><line x1="31.0" y1="42.57" x2="33.5" y2="42.57" stroke="#000" stroke-width="0.7"/><text x="15.42 20.92 26.41 31.9 37.39" y="45.12" text-anchor="middle" fill="#ff0000" stroke="#ff0000" stroke-width="0.25" font-size="7.9" font-family='"Liberation Sans", sans-serif' transform="scale(0.7100 1)">35000</text><line x1="31.0" y1="12" x2="33.5" y2="12" stroke="#000" stroke-width="0.7"/><text x="15.42 20.92 26.41 31.9 37.39" y="14.55" text-anchor="middle" fill="#ff0000" stroke="#ff0000" stroke-width="0.25" font-size="7.9" font-family='"Liberation Sans", sans-serif' transform="scale(0.7100 1)">40000</text><line x1="297.5" y1="12" x2="300.0" y2="12" stroke="#000" stroke-width="0.7"/><text x="440.39 444.44 451.66 457.3 462.93" y="14.7" text-anchor="middle" fill="#000" stroke="#000" stroke-width="0.25" font-size="8.1" font-family='"Liberation Sans", sans-serif' transform="scale(0.6920 1)">0.006</text><line x1="297.5" y1="54.8" x2="300.0" y2="54.8" stroke="#000" stroke-width="0.7"/><text x="440.39 444.44 451.66 457.3 462.93" y="57.5" text-anchor="middle" fill="#000" stroke="#000" stroke-width="0.25" font-size="8.1" font-family='"Liberation Sans", sans-serif' transform="scale(0.6920 1)">0.004</text><line x1="297.5" y1="97.6" x2="300.0" y2="97.6" stroke="#000" stroke-width="0.7"/><text x="440.39 444.44 451.66 457.3 462.93" y="100.3" text-anchor="middle" fill="#000" stroke="#000" stroke-width="0.25" font-size="8.1" font-family='"Liberation Sans", sans-serif' transform="scale(0.6920 1)">0.002</text><line x1="297.5" y1="140.4" x2="300.0" y2="140.4" stroke="#000" stroke-width="0.7"/><text x="440.39 444.44 451.66 457.3 462.93" y="143.1" text-anchor="middle" fill="#000" stroke="#000" stroke-width="0.25" font-size="8.1" font-family='"Liberation Sans", sans-serif' transform="scale(0.6920 1)">0.000</text><line x1="297.5" y1="183.2" x2="300.0" y2="183.2" stroke="#000" stroke-width="0.7"/><text x="440.39 446.03 450.07 457.3 462.93 468.57" y="185.9" text-anchor="middle" fill="#000" stroke="#000" stroke-width="0.25" font-size="8.1" font-family='"Liberation Sans", sans-serif' transform="scale(0.6920 1)"><tspan font-size="6.48">−</tspan>0.002</text><line x1="297.5" y1="226" x2="300.0" y2="226" stroke="#000" stroke-width="0.7"/><text x="440.39 446.03 450.07 457.3 462.93 468.57" y="228.7" text-anchor="middle" fill="#000" stroke="#000" stroke-width="0.25" font-size="8.1" font-family='"Liberation Sans", sans-serif' transform="scale(0.6920 1)"><tspan font-size="6.48">−</tspan>0.004</text><line x1="46.07" y1="226.0" x2="46.07" y2="228.5" stroke="#000" stroke-width="0.7"/><text x="62.48 68.44 74.41 80.38" y="236.9" text-anchor="middle" fill="#000" stroke="#000" stroke-width="0.25" font-size="8.7" font-family='"Liberation Sans", sans-serif' transform="scale(0.6450 1)">2004</text><line x1="96.36" y1="226.0" x2="96.36" y2="228.5" stroke="#000" stroke-width="0.7"/><text x="140.44 146.41 152.38 158.34" y="236.9" text-anchor="middle" fill="#000" stroke="#000" stroke-width="0.25" font-size="8.7" font-family='"Liberation Sans", sans-serif' transform="scale(0.6450 1)">2008</text><line x1="146.64" y1="226.0" x2="146.64" y2="228.5" stroke="#000" stroke-width="0.7"/><text x="218.4 224.37 230.34 236.31" y="236.9" text-anchor="middle" fill="#000" stroke="#000" stroke-width="0.25" font-size="8.7" font-family='"Liberation Sans", sans-serif' transform="scale(0.6450 1)">2012</text><line x1="196.93" y1="226.0" x2="196.93" y2="228.5" stroke="#000" stroke-width="0.7"/><text x="296.36 302.33 308.3 314.27" y="236.9" text-anchor="middle" fill="#000" stroke="#000" stroke-width="0.25" font-size="8.7" font-family='"Liberation Sans", sans-serif' transform="scale(0.6450 1)">2016</text><line x1="247.21" y1="226.0" x2="247.21" y2="228.5" stroke="#000" stroke-width="0.7"/><text x="374.32 380.29 386.26 392.23" y="236.9" text-anchor="middle" fill="#000" stroke="#000" stroke-width="0.25" font-size="8.7" font-family='"Liberation Sans", sans-serif' transform="scale(0.6450 1)">2020</text><line x1="297.5" y1="226.0" x2="297.5" y2="228.5" stroke="#000" stroke-width="0.7"/><text x="452.29 458.26 464.22 470.19" y="236.9" text-anchor="middle" fill="#000" stroke="#000" stroke-width="0.25" font-size="8.7" font-family='"Liberation Sans", sans-serif' transform="scale(0.6450 1)">2024</text><text x="189.53 194.71 199.88" y="6.3 7.7 6.3" text-anchor="middle" fill="#000" stroke="#000" stroke-width="0.25" font-size="9.0" font-family='"Liberation Sans", sans-serif' transform="scale(0.8500 1)">(a)</text><text x="210.3 215.36 220.43 225.49" y="246.9" text-anchor="middle" fill="#000" stroke="#000" stroke-width="0.25" font-size="8.6" font-family='"Liberation Sans", sans-serif' font-weight="bold" transform="scale(0.7600 1)">year</text><text x="-40.6 -36.09 -31.58 -27.07 -22.56 -18.05 -13.53 -9.02 -4.51 0 4.51 9.02 13.53 18.05 22.56 27.07 31.58 36.09 40.6" y="0" text-anchor="middle" fill="#ff0000" stroke="#ff0000" stroke-width="0.25" font-size="7.4" font-family='"Liberation Sans", sans-serif' transform="translate(5 118.7) rotate(-90) scale(0.8600 1)">daily closing price</text><text x="-57.44 -53.02 -48.6 -44.19 -39.77 -35.35 -30.93 -26.51 -22.09 -17.67 -13.26 -8.84 -4.42 0 4.42 8.84 13.26 17.67 22.09 26.51 30.93 35.35 39.77 44.19 48.6 53.02 57.44" y="0" text-anchor="middle" fill="#000" stroke="#000" stroke-width="0.25" font-size="7.4" font-family='"Liberation Sans", sans-serif' transform="translate(333.7 118.3) rotate(-90) scale(0.8600 1)">integrated quasi<tspan font-size="5.92">−</tspan>derivative</text><clipPath id="cb"><rect x="383.5" y="12.0" width="256.0" height="214.0"/></clipPath><rect x="449.21" y="12.0" width="13.29" height="214.0" fill="#ffff80"/><rect x="588.54" y="12.0" width="10.61" height="214.0" fill="#ffff80"/><path clip-path="url(#cb)" d="M383.53 203.95L383.67 202.99L383.77 203.07L383.8 202.98L383.93 201.85L384.03 202.98L384.13 203.36L384.44 206.23L384.47 206.59L384.64 207.68L384.74 207.56L384.84 207.61L384.87 207.58L385.1 208.6L385.14 208.72L385.17 207.76L385.44 208.39L385.54 208.49L385.67 210.12L385.77 210.37L385.8 210.37L386.07 205.78L386.11 205.02L386.14 204.45L386.37 206.97L386.47 207.6L386.71 206.93L386.74 207.03L386.77 207.21L387.07 205.83L387.17 206.17L387.41 205.06L387.44 205.18L387.74 203.37L387.78 203.75L388.01 202.63L388.11 202.81L388.24 203.53L388.41 202.22L388.44 202.69L388.48 202.77L388.71 200.83L388.81 200.56L388.91 199.68L389.04 200.14L389.08 199.28L389.11 199.04L389.38 201.15L389.41 201.24L389.51 202.11L389.65 201.66L389.75 201.87L390.05 200.67L390.08 200.93L390.11 200.36L390.35 200.86L390.45 200.62L390.48 200.64L390.68 199.68L390.71 199.82L390.75 199.68L390.95 200.16L390.98 199.03L391.05 199.75L391.15 199.67L391.18 199.15L391.28 199.92L391.38 199.83L391.62 198.3L391.68 198.96L391.72 199.56L391.88 199.94L391.98 199.24L392.08 199.49L392.22 199.89L392.35 198.54L392.38 198.52L392.45 199.34L392.65 198.35L392.68 198.4L392.78 197.76L392.88 197.06L393.02 197.28L393.05 196.93L393.15 195.89L393.35 196.46L393.39 196L393.55 197.5L393.62 197.09L393.72 197.44L393.99 197L394.02 197.04L394.09 196.55L394.29 197.29L394.32 197.09L394.42 197.28L394.45 197.47L394.52 196.35L394.66 196.57L394.69 195.91L394.99 194.29L395.02 193.58L395.12 193.04L395.26 194.62L395.36 194.14L395.66 192.37L395.69 192.4L395.72 192.47L395.86 191.84L395.96 192.03L396.06 192.57L396.16 192.84L396.32 191.75L396.36 191.32L396.52 191.07L396.66 192.35L396.76 192.69L396.79 192.72L396.99 191.56L397.02 190.91L397.06 190.82L397.29 192.25L397.32 192.33L397.59 191.36L397.69 191.05L397.96 192.46L397.99 193.07L398.06 192.92L398.29 194.06L398.39 194.71L398.45 195.72L398.62 193.63L398.65 192.87L398.95 191.96L398.99 191.51L399.22 193.8L399.32 193.56L399.39 192.89L399.62 193.59L399.65 193.68L399.89 194.94L399.92 194.83L400.02 195.43L400.25 196.68L400.29 195.7L400.32 195.46L400.62 193.54L400.72 194L400.75 194.43L400.82 193.32L400.85 193.97L400.95 194.13L401.05 194.15L401.22 192.71L401.25 192.91L401.29 193.1L401.42 193.27L401.55 192.43L401.65 192.36L401.69 192.08L401.92 193.68L401.95 194.18L402.02 193.52L402.22 194.37L402.25 193.9L402.35 193.85L402.39 193.82L402.42 194.67L402.59 194L402.62 194.12L402.82 195.26L402.92 195.02L402.95 195.6L403.08 195.27L403.18 196.88L403.28 196.5L403.58 194.91L403.62 194.52L403.82 193.64L403.88 193.99L403.98 193.95L404.08 193.73L404.22 194.2L404.25 193.78L404.32 193.64L404.55 194.76L404.58 194.33L404.75 194.77L404.82 194.71L404.92 194.77L404.95 194.62L405.22 195.59L405.25 195.82L405.48 196.42L405.52 196.37L405.62 196.77L405.75 196.1L405.88 196.52L405.92 196.09L406.18 194.21L406.22 194.65L406.32 194.53L406.45 193.27L406.55 193.32L406.58 193.59L406.78 192.31L406.88 193.12L406.92 192.8L407.05 193.3L407.11 191.63L407.15 191.84L407.25 191.83L407.31 192.43L407.55 191.97L407.58 192.01L407.75 189.77L407.85 190.71L407.95 190.62L408.01 191.67L408.18 191.46L408.21 191.3L408.52 192.84L408.55 192.34L408.65 193.32L408.78 192.44L408.88 191.94L408.92 192.04L409.02 191.49L409.18 191.6L409.22 191.9L409.42 192.08L409.45 191.24L409.48 191.97L409.58 190.99L409.85 190.02L409.88 189.7L410.05 189.01L410.19 190.01L410.29 189.62L410.52 191.69L410.55 192.15L410.65 192.84L410.79 192.15L410.82 192.33L410.85 192.7L411.12 193.68L411.22 194.21L411.29 194.17L411.32 195.19L411.49 194.88L411.52 195.47L411.82 194.28L411.92 194.6L411.96 194.16L412.02 195.26L412.16 195.1L412.19 194.92L412.39 195.33L412.46 194.14L412.49 194.34L412.52 193.6L412.62 193.28L412.72 194.03L412.76 193.44L412.86 193.26L413.12 192.22L413.16 192.25L413.19 192.08L413.46 193.4L413.56 193.67L413.66 193.98L413.79 193.71L413.83 193.3L414.03 194.02L414.13 193.56L414.16 193.38L414.33 193.52L414.39 193.03L414.49 193.07L414.56 193.6L414.79 191.24L414.83 191.32L414.86 191.77L414.99 190.52L415.1 191.48L415.2 191.89L415.23 191.28L415.33 192.06L415.46 192.06L415.5 192.05L415.7 191.29L415.8 191.97L415.9 191.68L416 192.67L416.03 192.29L416.13 192.19L416.36 192.33L416.43 191.74L416.46 191.61L416.7 191.5L416.73 192.42L416.83 192.26L416.9 191.94L417.1 192.93L417.13 193.44L417.3 193.14L417.4 193.56L417.43 193.49L417.53 193.03L417.67 194.38L417.77 193.92L417.8 193.35L417.83 193.54L418.1 192.93L418.13 193.07L418.27 193.61L418.37 192.05L418.47 191.6L418.54 191.75L418.77 190.5L418.8 190.91L418.84 190.88L418.97 192.11L419.07 191.36L419.17 191.38L419.27 191.4L419.3 190.12L419.4 190.17L419.44 190.33L419.54 189.61L419.74 190.84L419.77 190.38L419.87 190.76L420 189.65L420.1 189.8L420.14 189.47L420.41 191.11L420.44 190.98L420.71 190.04L420.81 189.92L420.84 189.66L420.91 190.88L421.07 189.88L421.11 190.14L421.37 188.79L421.41 189.26L421.51 189.28L421.61 188.88L421.64 189.25L421.74 188.71L421.84 189.97L422.04 189.43L422.08 189.21L422.21 189.26L422.28 187.32L422.34 188.34L422.44 187.97L422.51 187.99L422.68 187.32L422.71 187.85L422.74 187.35L422.81 188.91L423.04 188.75L423.14 188.3L423.18 187.95L423.24 188.75L423.38 188.43L423.41 188.53L423.44 189.14L423.68 188.24L423.71 188.79L423.75 188.43L423.91 186.33L423.98 186.59L424.08 185.95L424.15 187.06L424.38 185.5L424.41 185.71L424.58 185.71L424.68 186.92L424.78 186.59L424.85 186.26L425.01 187.52L425.05 188.52L425.11 188.33L425.28 190.31L425.35 190.26L425.38 190.73L425.48 190.56L425.55 191.68L425.62 191.14L425.72 190.58L425.98 188.23L426.02 188.84L426.05 188.67L426.25 187.86L426.32 189.33L426.42 189.38L426.45 189.38L426.55 191.44L426.68 190.16L426.72 189.47L427.02 188.16L427.12 187.87L427.15 188.58L427.25 188.43L427.35 188.27L427.42 188.01L427.49 188.29L427.65 188.05L427.69 187.51L427.85 188.18L427.95 188.15L428.05 187.54L428.09 187.56L428.29 185.34L428.32 185.62L428.35 185.49L428.39 185.86L428.52 184.93L428.65 185.69L428.76 185.7L428.99 184.1L429.02 185.37L429.09 185.91L429.22 184.92L429.32 185.37L429.36 185L429.46 185.5L429.59 184.5L429.69 183.72L429.76 183.88L429.96 182.44L429.99 182.46L430.06 183.22L430.22 181.89L430.29 182.18L430.39 181.93L430.42 182.24L430.53 180.06L430.63 180.44L430.66 180.43L430.86 179.9L430.93 181.11L430.96 180.98L430.99 182.14L431.23 180.92L431.33 181.55L431.46 183.23L431.63 182.05L431.66 182.25L431.93 180.54L432.03 179.77L432.13 180.55L432.3 178.95L432.33 179.14L432.4 179.01L432.56 180.45L432.63 180.15L432.73 179.43L432.76 178.47L432.86 179.49L432.96 179.48L433.1 178.38L433.26 179.15L433.3 179.49L433.33 180.77L433.56 178.4L433.66 179.3L433.73 177.66L433.93 178.62L433.97 178.28L434.27 182.93L434.37 182.84L434.47 184.07L434.6 183.38L434.63 183.75L434.67 184.14L434.9 182.12L434.93 182.58L434.97 182.43L435.2 180.92L435.3 180.31L435.37 179.69L435.57 179.97L435.6 180.5L435.87 176.81L435.9 177.81L436 177.83L436.24 176.45L436.27 176.3L436.47 176.17L436.57 177.01L436.6 178.18L436.77 176.46L436.84 177.03L436.94 176.55L436.97 177.39L437.24 173.33L437.27 173.84L437.44 173.71L437.51 174.54L437.54 174.13L437.64 173.93L437.67 174.59L437.91 173.66L437.94 174.2L438.14 173.88L438.17 174.56L438.21 174.35L438.24 174L438.37 173.12L438.47 173.55L438.57 173.06L438.61 173.4L438.87 171.29L438.91 171.5L439.18 175.32L439.28 175.34L439.34 176.43L439.51 174.55L439.54 175.59L439.58 175.59L439.84 178.27L439.88 178.09L439.98 177.39L440.21 175.82L440.24 176.66L440.48 174.01L440.54 174.81L440.58 175.16L440.68 175.21L440.81 174.51L440.91 174.49L440.98 175.43L441.18 173.47L441.21 172.82L441.51 170.38L441.61 170.68L441.75 169.45L441.85 169.47L441.88 169.38L442.15 171.42L442.18 170.63L442.21 171.22L442.35 171.08L442.45 173.36L442.55 173.77L442.85 176.63L442.88 176.91L443.15 178.74L443.25 178.2L443.52 175.12L443.55 174.82L443.75 171.77L443.82 173.63L443.85 173.71L444.02 175.32L444.08 174.71L444.19 173.96L444.49 176.38L444.52 176.6L444.79 179.95L444.89 180.44L445.15 183.33L445.19 182.54L445.48 178.76L445.58 178.42L445.68 179.96L445.82 178.88L445.85 178.01L446.15 180.23L446.18 180.42L446.28 179.8L446.42 181.74L446.52 182.06L446.75 185.05L446.82 183.82L446.85 183.37L446.88 183.57L447.12 182.45L447.22 181.69L447.28 181.92L447.35 180.78L447.45 181.71L447.48 181.43L447.52 181.48L447.72 180.13L447.78 180.62L447.82 180.19L447.95 181.17L448.05 179.4L448.15 180.42L448.42 177L448.45 177.51L448.48 176.33L448.62 177.59L448.75 177.16L448.85 176.84L448.92 175.9L449.12 178.2L449.15 178.87L449.18 178.45L449.35 179.99L449.45 179.53L449.55 179.5L449.78 181.75L449.81 182.79L450.11 186.69L450.15 186.13L450.25 185.92L450.35 186.93L450.38 186.8L450.48 187.21L450.51 187.15L450.75 188.52L450.78 188.56L450.98 189.66L451.01 188.54L451.08 188.97L451.18 189.16L451.21 189.21L451.41 187.61L451.45 188.01L451.55 188.16L451.75 185.15L451.78 185.36L451.88 184.51L451.95 185.99L452.01 184.84L452.11 185.01L452.25 184.28L452.38 186.58L452.41 186.07L452.45 186.16L452.48 185.93L452.71 188.07L452.81 188.04L452.91 189.24L453.08 188.72L453.11 187.26L453.18 187.13L453.41 189.87L453.51 190.36L453.55 190.16L453.75 198.39L453.78 200.28L453.98 205.38L454.08 205.18L454.11 205.57L454.34 206.37L454.44 206.65L454.71 197.74L454.74 199.5L455.04 206.57L455.14 207.95L455.24 210.94L455.38 207.82L455.41 206.79L455.68 201.74L455.71 201.97L455.74 201.86L455.94 202.73L455.98 202.19L456.08 201.97L456.38 203.43L456.41 203.23L456.64 201.88L456.68 202.03L456.78 201.77L457.04 204.88L457.08 205.51L457.38 208.31L457.48 208.43L457.61 207.76L457.71 207.15L457.75 207.39L457.81 206.22L458.01 207.17L458.05 207.71L458.31 211.31L458.41 211.98L458.68 214.5L458.71 214.62L458.88 216.28L459.01 213.43L459.11 213.27L459.35 210.55L459.38 209.49L459.45 207.95L459.62 210.21L459.68 209.13L459.72 208.93L459.82 209.4L459.95 208.2L460.05 208.56L460.32 207.77L460.35 207.16L460.38 207.69L460.65 205.75L460.75 205.42L460.98 203.99L461.02 204.08L461.05 203.87L461.08 204.85L461.32 204.19L461.35 203.84L461.59 204.96L461.69 204.88L461.75 204.96L461.99 203.26L462.02 203.45L462.19 204.72L462.29 204.53L462.39 204.26L462.45 204.01L462.65 205.16L462.69 205.47L462.99 206.96L463.09 206.13L463.12 206.65L463.19 205.74L463.22 205.94L463.32 205.43L463.62 201.74L463.66 200.66L463.69 200.15L463.92 200.49L464.02 200.1L464.16 200.17L464.29 199.81L464.32 199.42L464.36 200.13L464.52 199.1L464.63 199.28L464.73 198.43L464.79 198.83L464.83 197.96L464.96 198.41L464.99 198.5L465.03 198.99L465.29 197.46L465.33 197.23L465.43 197.2L465.56 198.51L465.66 197.97L465.93 196.38L465.96 195.7L465.99 196.3L466.26 194.67L466.36 195.08L466.6 196.38L466.63 196.64L466.7 197.34L466.86 196.24L466.93 196.94L466.96 195.77L467.1 196.01L467.2 194.61L467.3 194.62L467.36 194.75L467.56 193.84L467.6 193.85L467.63 193.73L467.76 193.03L467.86 194.4L467.9 194.32L468 193.81L468.23 193.06L468.27 193.48L468.3 193.59L468.6 192.51L468.7 193.17L468.77 192.52L468.83 193.14L468.93 192.94L469.07 191.68L469.23 191.95L469.27 191.76L469.4 191.73L469.53 193.04L469.63 193.49L469.9 195.43L469.94 195.89L470.24 194.94L470.34 195.08L470.37 195.11L470.57 194.43L470.6 194.04L470.64 194.18L470.9 192.49L470.94 192.93L471.04 193.51L471.14 191.72L471.17 192.34L471.27 191.56L471.54 190.06L471.57 190.25L471.64 190.95L471.87 190.22L471.97 189.99L472.21 188.86L472.24 188.84L472.27 189.39L472.47 187.74L472.54 187.85L472.57 188.44L472.67 188.08L472.81 190.74L472.91 190.89L473.21 193.12L473.24 194.03L473.41 193.33L473.51 194.92L473.61 195.08L473.64 195.43L473.88 194.3L473.91 194.87L473.94 195.12L474.18 193.38L474.21 193.27L474.44 192.36L474.54 193.24L474.85 195.99L474.88 196.67L474.91 197.47L475.11 195.36L475.15 195.55L475.25 195.39L475.48 194.01L475.51 194.19L475.55 194.1L475.58 194.16L475.81 192.27L475.85 192.27L475.95 192.03L475.98 192.31L476.08 191.23L476.18 191.31L476.21 191.94L476.52 194.37L476.55 194.74L476.78 195.91L476.88 195.58L477.12 194.68L477.15 194.71L477.18 194.84L477.45 193.12L477.48 193.46L477.58 193.27L477.82 191.37L477.85 190.11L477.95 190.84L478.15 189.21L478.18 189.47L478.35 188.48L478.42 189.44L478.52 188.45L478.75 189.88L478.82 189.5L478.85 189.71L479.12 186.52L479.22 186.88L479.49 187.99L479.52 188.08L479.55 187.18L479.79 189.03L479.82 189.24L479.99 189.37L480.02 189.08L480.06 189.27L480.16 189.11L480.26 189.64L480.39 188.65L480.46 189.11L480.49 189.05L480.66 187.49L480.76 187.83L480.86 187.45L481.12 184.75L481.16 185.02L481.32 184.54L481.42 185.68L481.46 185.53L481.56 185.3L481.69 184.25L481.79 184.71L481.83 184.3L482.13 183.81L482.16 183.45L482.39 181.51L482.49 181.4L482.63 180.23L482.76 181.49L482.79 181.57L483.06 184.14L483.09 184.04L483.19 184.25L483.43 185.33L483.46 184.84L483.5 185.75L483.76 182.5L483.8 182.44L483.93 182.66L484 180.7L484.03 181.12L484.13 180.23L484.4 178.33L484.43 178.34L484.46 177.98L484.5 177.37L484.7 178.87L484.73 178.69L484.83 178.78L484.9 179.37L485.07 177.5L485.1 178.32L485.13 178.31L485.4 179.59L485.43 179.4L485.53 179.78L485.6 178.09L485.67 178.51L485.77 178.6L486.03 179.71L486.07 179.64L486.1 180.31L486.37 183.35L486.47 184.17L486.5 184.26L486.73 182.36L486.77 182.6L486.84 182.66L487.04 180.3L487.07 180.45L487.17 179.91L487.2 179.46L487.4 180.52L487.44 179.95L487.64 178.29L487.74 178.77L487.77 179.46L488 182.63L488.1 184.45L488.37 190.19L488.4 191.18L488.47 191.22L488.71 188.44L488.81 188.36L489.04 185.88L489.07 185.93L489.14 185.14L489.34 187.8L489.37 187.74L489.41 187.73L489.54 187.42L489.64 188.72L489.74 189.37L490.04 190.81L490.07 191.15L490.21 191.29L490.34 189.24L490.44 188.93L490.68 186.15L490.71 186.34L490.74 185.26L491.01 181.83L491.04 181.36L491.21 181.15L491.28 183.64L491.38 183.99L491.68 186.98L491.71 187.74L491.74 186.84L491.98 188.05L492.08 186.19L492.31 182.51L492.35 182.52L492.38 182.92L492.41 183.52L492.65 182.87L492.68 182.99L492.78 182.19L492.81 181.72L492.91 182.65L493.01 182.26L493.05 181.72L493.11 180.51L493.25 182.09L493.35 181.84L493.38 182.56L493.61 180.78L493.71 180.22L493.78 179.31L493.98 181.15L494.01 181.13L494.25 178.55L494.31 179.16L494.41 180.43L494.51 177.81L494.65 179.09L494.68 178.39L494.95 177.75L494.98 178.02L495.01 177.71L495.11 177.9L495.25 176.48L495.35 177.55L495.45 176.1L495.65 176.33L495.68 177.63L495.71 177.93L495.95 175.99L496.05 176.1L496.08 176.67L496.28 175.84L496.31 175.91L496.35 175.42L496.41 177.3L496.64 174.49L496.74 174.6L496.81 175.46L496.88 174.24L496.98 174.74L497.01 174.65L497.04 174.24L497.28 175.07L497.31 174.59L497.48 175.77L497.58 175.34L497.68 176.21L497.94 179L497.98 180.27L498.28 182.72L498.38 182.16L498.61 179.7L498.64 178.83L498.84 179.13L498.91 178.35L498.94 179.06L498.98 178.18L499.21 177.17L499.31 177.24L499.44 178.39L499.61 178.09L499.64 177.21L499.88 177.71L499.91 177.09L500.01 177.02L500.11 176.05L500.28 176.32L500.31 176.52L500.48 177.23L500.54 176.29L500.61 176.58L500.71 176.52L500.74 175.84L500.81 177.27L500.84 176.74L500.94 177.23L501.01 178.33L501.07 176.77L501.24 177.76L501.27 176.7L501.41 176.86L501.51 175.4L501.54 175.56L501.64 175.5L501.67 176.18L501.87 174.6L501.91 175.65L501.94 175.78L502.11 176.25L502.24 174.47L502.34 174.95L502.57 173L502.61 173.19L502.91 175.87L502.94 176.56L503.11 175.5L503.17 176.4L503.27 176.45L503.34 176.34L503.57 178.64L503.61 178.42L503.74 177.82L503.81 179.43L503.87 178.98L503.97 179.73L504.01 180L504.24 177.81L504.27 178.32L504.51 175.58L504.54 176.2L504.57 176.38L504.67 175.82L504.81 177.21L504.91 177.18L504.94 176.35L504.97 177.22L505.2 177.05L505.24 177.04L505.5 175.41L505.61 175.36L505.87 173.02L505.91 173.4L506.21 171.45L506.31 171.65L506.37 170.45L506.54 170.95L506.57 170.43L506.61 170.06L506.77 171.71L506.87 171.18L506.91 170.68L507.01 171.12L507.11 170.49L507.14 171.1L507.24 171.46L507.51 170.23L507.54 169.39L507.61 169.44L507.81 167.72L507.84 168.4L507.94 168.4L508.18 166.29L508.21 166.08L508.31 167.92L508.51 167.23L508.54 165.65L508.68 165.52L508.78 166.42L508.88 166.95L508.95 168.7L509.18 167.74L509.21 167.19L509.48 164.52L509.58 164.44L509.85 163.06L509.88 163.62L510.05 163.98L510.11 163.21L510.15 163.45L510.18 163.11L510.28 163.58L510.38 161.95L510.41 162.47L510.51 162.2L510.75 165.45L510.82 164.91L510.85 165.31L510.98 164.91L511.02 166.27L511.12 165.96L511.22 166.2L511.48 167.58L511.52 165.85L511.82 162.08L511.92 162.46L512.15 160.95L512.18 160.1L512.25 161.5L512.49 160.75L512.52 160.46L512.62 160.46L512.75 162.56L512.85 162.93L512.95 164.99L513.12 163.37L513.15 163.86L513.19 163.47L513.45 166.41L513.55 164.92L513.62 165.62L513.79 163.66L513.82 163.11L514.09 159.94L514.12 160.51L514.16 162.5L514.36 164.47L514.39 164.11L514.49 164.4L514.76 165.92L514.79 165.13L514.82 165.5L514.86 166.69L515.06 164.23L515.09 164.44L515.19 165.25L515.46 161.4L515.49 161.87L515.69 162.78L515.76 161.63L515.79 161.64L515.89 162.54L515.93 161.48L516.03 161.94L516.13 160.73L516.16 161.28L516.26 158.92L516.43 159.78L516.46 157.85L516.49 158.46L516.73 157.44L516.83 157.18L517.06 157.72L517.09 156.92L517.13 156.53L517.33 154L517.43 155.01L517.53 155.94L517.56 155.82L517.76 157.51L517.8 157.78L517.9 156.87L518.1 158.33L518.13 158.88L518.36 160.55L518.46 161.03L518.73 163.22L518.76 163.53L519.06 159.89L519.16 159.06L519.23 159.35L519.3 157.77L519.4 158.18L519.43 156.82L519.53 155.37L519.73 157.43L519.77 157.37L519.97 158.82L520 157.48L520.1 157.44L520.2 157.29L520.33 158.41L520.4 158.19L520.43 157.57L520.47 157.65L520.6 155.91L520.7 157.14L520.8 157.39L520.9 158.6L521.07 158.15L521.1 156.74L521.3 157.6L521.37 156.27L521.4 156.95L521.5 157.06L521.6 154.25L521.64 154.74L521.74 155.19L521.84 157.17L522.04 156.09L522.07 156.04L522.24 154.58L522.34 154.82L522.44 154.4L522.47 154.85L522.67 153.54L522.71 153.89L522.74 152.67L522.91 155.44L523.04 153.64L523.14 153.43L523.37 154.94L523.41 154.35L523.47 154.45L523.67 152.94L523.71 153.08L523.74 152.95L523.94 151.13L523.97 151.53L524.07 151.65L524.14 151.43L524.31 152.41L524.34 152.35L524.38 152.3L524.41 152.04L524.68 155.21L524.78 155.38L524.84 155.36L524.88 156.63L525.01 155.51L525.04 156.04L525.34 152.94L525.38 152.64L525.48 152.08L525.61 153.32L525.71 152.43L525.81 151.71L525.94 153.06L526.01 152.73L526.05 151.23L526.08 150.76L526.25 151.84L526.31 151.09L526.41 152.58L526.48 151.11L526.55 154.08L526.68 152.72L526.71 152.18L526.98 155.95L527.01 156.36L527.21 158.38L527.25 157.31L527.35 156.38L527.38 156.59L527.61 152.64L527.65 152.96L527.68 151.19L527.92 148.96L527.95 149.71L528.05 149.33L528.18 147.08L528.32 147.54L528.35 147.12L528.38 146.63L528.58 148.23L528.65 147.23L528.75 147.12L528.78 145.59L528.98 148.12L529.02 147.1L529.08 146.3L529.32 147.64L529.35 145.74L529.49 145.71L529.55 146.87L529.59 145.77L529.69 146.13L529.95 149.52L529.99 148.1L530.05 147.88L530.29 151.03L530.39 150.4L530.62 151.65L530.65 152.25L530.69 152.63L530.85 150.2L530.95 151.48L530.99 150.46L531.22 146.65L531.32 147L531.36 148.3L531.59 145.83L531.62 146.68L531.66 146.2L531.69 145.54L531.92 148.96L532.02 148.56L532.12 148.26L532.26 150.02L532.29 149.38L532.52 147.36L532.59 147.43L532.62 147.96L532.76 148.12L532.82 146.94L532.86 147.09L532.96 147.55L533.03 150.07L533.26 147.43L533.29 148.21L533.43 149.08L533.49 147.8L533.56 148.24L533.66 148.61L533.79 148.97L533.93 145.86L533.96 145.52L534.03 144.45L534.16 145.75L534.26 145.68L534.36 144.84L534.39 144.59L534.46 145.93L534.6 145.49L534.63 146.98L534.7 147.63L534.93 146.39L534.96 146.6L535.2 148.62L535.3 147.95L535.56 149.84L535.6 149.85L535.63 149.87L535.83 146.74L535.9 147.2L536 147.47L536.03 148.66L536.23 146.65L536.27 147.03L536.33 145.94L536.53 147.97L536.57 147.32L536.6 145.91L536.8 148.94L536.83 148.4L536.93 148.46L537.23 155.09L537.27 155.23L537.53 160.3L537.63 160.12L537.67 160.44L537.87 154.67L537.9 154.95L538 154.41L538.2 157.66L538.24 158.01L538.37 157.46L538.4 158.59L538.47 158.14L538.57 158.86L538.67 158.39L538.84 159.76L538.87 158.79L538.9 158.29L539.14 154.29L539.17 154.37L539.27 154.88L539.54 153.23L539.57 151.81L539.87 148.82L539.97 147.98L540.07 148.32L540.21 146.15L540.24 147.31L540.31 146.61L540.47 149.06L540.51 148.06L540.54 147.76L540.57 147.5L540.77 148.27L540.81 147.81L540.91 148.65L541.04 148.72L541.17 147.35L541.21 147.56L541.51 149.32L541.61 148.47L541.68 149.99L541.74 148.25L541.84 148.93L541.88 148.42L542.18 154.29L542.21 155.44L542.44 158.51L542.54 158.58L542.64 159.72L542.84 157.34L542.88 156.7L542.91 156.51L543.14 158.17L543.24 158.99L543.31 160.51L543.51 159.98L543.54 159.8L543.77 156.9L543.81 157.73L543.84 157.32L544.07 154.01L544.17 153.61L544.21 154.51L544.47 152.1L544.51 151.09L544.67 151.3L544.74 149.44L544.77 149.48L544.87 149.01L544.97 147.57L545.01 149.05L545.14 148.24L545.17 148.74L545.24 149.28L545.47 147.86L545.57 146.68L545.61 148.32L545.71 146.18L545.81 146.56L545.84 146.23L545.87 146.03L546.11 148.4L546.14 147.75L546.17 148.74L546.31 146.24L546.41 147.39L546.51 147.5L546.64 150.06L546.81 148.55L546.84 147.9L546.97 148.84L547.11 147.62L547.21 148.19L547.24 148.84L547.34 147.18L547.44 147.74L547.47 149.07L547.74 151.67L547.77 151.58L547.8 152.06L547.94 152.28L548.04 149.82L548.14 149.67L548.44 146.82L548.47 145.76L548.64 148.66L548.74 143.74L548.84 144.11L548.97 144.61L549.1 143.68L549.14 142.51L549.17 142.01L549.4 144.16L549.44 144.15L549.54 143.83L549.6 143.2L549.67 143.94L549.77 143.56L549.8 144.67L549.87 145.91L550.04 144.34L550.1 144.48L550.14 145.49L550.37 143.46L550.47 143.62L550.5 144.48L550.7 143.38L550.77 144.06L550.8 144.7L550.84 145.7L550.94 144.21L551.07 144.96L551.17 145.86L551.4 144L551.44 145.66L551.5 143.12L551.74 143.99L551.77 143.98L551.87 145.22L551.9 143.43L552 145.06L552.1 145.58L552.13 145.4L552.2 146.69L552.4 145.75L552.43 144.79L552.57 145.61L552.7 143.47L552.8 144.24L553.07 140.02L553.1 139.78L553.37 137.87L553.4 138.07L553.5 137.85L553.73 134.72L553.77 134.29L553.83 133.72L553.97 135.88L554.07 135.18L554.1 136.66L554.27 135.93L554.33 137.48L554.43 136.55L554.47 137.5L554.53 135.72L554.7 136.29L554.73 136.76L554.9 134.52L555 137.07L555.04 136.22L555.14 135.88L555.27 133.03L555.37 134.01L555.4 133.73L555.5 135.08L555.67 131.3L555.7 131.63L555.74 130.86L555.97 128.53L556.07 128.7L556.17 126.82L556.37 129.58L556.4 129.38L556.64 132.15L556.67 131.64L556.77 130.92L556.84 130.61L556.91 131.8L557.04 131.52L557.07 131.24L557.34 128.7L557.37 129.45L557.54 131.01L557.61 130.65L557.71 129.71L557.74 129.99L557.94 127.77L558.01 128.64L558.04 127.81L558.07 128.5L558.21 127.18L558.31 127.23L558.41 128.17L558.48 129L558.68 125.78L558.71 126.41L558.88 128.17L558.98 126.01L559.01 126.49L559.11 127.49L559.18 128.56L559.24 126.54L559.34 128.09L559.38 125.98L559.48 124.84L559.61 127.75L559.68 127.34L559.71 127.36L559.94 124.89L560.04 125.43L560.31 127.51L560.35 126.67L560.55 125.22L560.65 126.69L560.75 127.04L560.98 123.46L561.01 124.35L561.05 125.56L561.31 121.87L561.35 119.84L561.55 119.52L561.58 121.51L561.68 122.66L561.75 124.41L561.98 123.99L562.02 122.55L562.25 123.63L562.28 121.55L562.38 122.19L562.62 123.55L562.65 121.83L562.68 121.12L562.72 120.04L562.92 122.05L562.95 121.72L562.98 119.03L563.12 118.18L563.22 119.37L563.32 118.42L563.38 117.98L563.59 120.41L563.62 120.29L563.65 119.45L563.69 120.12L563.92 114.98L564.02 114.09L564.15 115.25L564.29 113.57L564.32 114.03L564.59 110.35L564.62 111.04L564.72 111.93L564.82 112.11L564.95 110.2L564.99 109.52L565.09 106.66L565.29 107.28L565.32 106.23L565.42 108.44L565.56 106.62L565.66 105.55L565.79 106.46L565.89 102.78L565.92 103.53L565.96 104.37L566.22 106.2L566.26 104.07L566.36 104.06L566.59 102.3L566.62 102.63L566.66 102.77L566.92 96.44L566.96 95.01L567.06 95.27L567.19 92.61L567.29 95.22L567.59 107.01L567.63 110.62L567.89 104.53L567.99 104.33L568.23 99.7L568.26 100.03L568.29 99.63L568.56 103.63L568.59 106.36L568.8 111.99L568.83 111.01L568.93 110.41L569.06 113.9L569.23 109.55L569.26 110.49L569.3 108.56L569.53 108.9L569.63 109.17L569.73 107.84L569.9 110.12L569.93 110.03L570 111.94L570.23 109.24L570.33 108.77L570.4 109.51L570.57 108.25L570.6 109.41L570.7 107L570.9 109.31L570.93 108.5L571.03 106.7L571.1 109.11L571.17 108.57L571.27 108.09L571.3 108.8L571.37 106.67L571.53 106.69L571.57 105.36L571.73 101.34L571.87 105.19L571.97 106.44L572 106.17L572.1 107.9L572.2 107.73L572.24 109.2L572.5 107.35L572.54 107.68L572.57 108.24L572.8 105.87L572.9 107.58L573.04 102.26L573.2 102.4L573.24 102.73L573.44 99.96L573.5 100.8L573.6 99.61L573.64 98.4L573.84 100.73L573.87 99.03L574.07 99.4L574.11 97.15L574.17 98.54L574.21 99.92L574.37 100.34L574.44 96.85L574.54 97.18L574.57 97.67L574.84 95.49L574.87 94.34L575.01 94.23L575.14 96.46L575.24 96.08L575.51 93.33L575.54 91.24L575.84 97.49L575.94 98.12L576.08 102.81L576.18 102.3L576.21 101.28L576.41 107.85L576.48 104.11L576.51 101.62L576.74 95.97L576.78 98.73L576.88 100.69L576.98 100L577.14 105.15L577.18 106.05L577.25 107.33L577.48 98.76L577.58 99.21L577.65 98.95L577.81 106.71L577.85 109.22L578.15 118.33L578.18 120.15L578.28 122.16L578.41 114.52L578.51 112.45L578.58 114.15L578.65 110.93L578.81 111.08L578.85 110.8L579.12 107.29L579.22 106.92L579.32 103.54L579.45 103.72L579.48 104.06L579.75 102.51L579.78 102.6L579.82 101.58L579.92 102.04L580.05 98.28L580.15 98.73L580.18 100.29L580.38 95.41L580.45 99.4L580.48 98.51L580.75 93.6L580.85 93.44L580.92 96.23L581.12 95.22L581.15 95.64L581.22 94.17L581.45 97.07L581.55 97.1L581.62 97.25L581.79 96.14L581.82 96.18L581.85 92.96L582.09 94.55L582.12 94.51L582.15 94.83L582.39 92.05L582.49 94.59L582.56 94.25L582.62 96.46L582.76 96.07L582.79 96.62L582.82 95.11L583.09 99.92L583.19 99.14L583.26 98.08L583.29 100.83L583.42 99.33L583.46 99.63L583.66 104.6L583.76 102.72L583.79 102.43L583.89 102.49L584.02 99.81L584.13 99.59L584.16 99.68L584.43 96.31L584.46 94.76L584.73 91.89L584.83 91.81L584.96 87.44L585.06 89.38L585.09 90.43L585.19 90.19L585.39 93.72L585.43 92.71L585.59 92.23L585.66 96.47L585.76 96.78L585.83 96.24L586 101.38L586.06 101.28L586.1 98.98L586.36 96.83L586.46 97.24L586.73 93.77L586.76 94.69L587.03 88.28L587.06 91.31L587.16 92.3L587.23 90.36L587.4 92.89L587.43 92.67L587.63 98.95L587.7 96.83L587.73 97.98L587.77 95.67L587.97 99.18L588 99.03L588.1 100.14L588.23 94.39L588.37 95.23L588.4 95.06L588.67 89.95L588.7 90.92L588.8 91.61L588.83 93.22L589.03 89.44L589.07 90.59L589.13 91.71L589.3 86.55L589.37 87.89L589.4 87.02L589.64 83.2L589.74 83.66L589.77 85.16L589.97 80.95L590.04 82.62L590.07 83.66L590.24 86.55L590.34 83L590.44 83.35L590.57 81.5L590.67 82.38L590.7 81.11L590.8 83.22L591 78.05L591.04 79.75L591.14 79.67L591.24 81.02L591.27 79.92L591.37 80.42L591.44 78.85L591.5 81.81L591.67 80.42L591.7 81.89L591.74 85.63L591.97 79.15L592.07 80.15L592.14 75.69L592.34 83.69L592.37 84.98L592.67 101.33L592.77 102.08L592.9 111.26L593 110.58L593.04 102.58L593.34 139.53L593.37 141.1L593.47 143.85L593.57 119.45L593.6 123.45L593.7 125.15L593.77 128.02L593.84 124.91L593.97 125.94L594 125.36L594.3 116.62L594.4 114.72L594.5 108.5L594.64 109.21L594.67 106.81L594.7 104.75L594.97 110.77L595 112.09L595.2 113.98L595.23 112.08L595.33 110.5L595.6 102.4L595.63 102.99L595.67 102.19L595.93 90.63L596.03 87.15L596.3 91.88L596.33 95.1L596.6 102.72L596.63 102.66L596.73 100.02L596.8 103.15L596.97 100.4L597 100.55L597.07 97.85L597.3 98.76L597.33 98.85L597.57 96.55L597.67 97.57L597.7 97.93L597.93 91.54L597.97 92.82L598 93.43L598.2 90.11L598.27 90.16L598.37 91.12L598.6 87L598.63 85.46L598.7 86.03L598.9 78.65L598.93 79.84L598.97 79.21L599.16 82.07L599.2 81.95L599.3 81.52L599.4 81.33L599.6 84.83L599.63 86.69L599.66 85.76L599.8 88.44L599.9 88.23L600 88.42L600.23 92.79L600.26 92.44L600.3 94.13L600.46 95.43L600.56 93.32L600.6 94.53L600.7 93.17L600.73 95.11L600.83 93.88L600.93 91.35L601 92.57L601.23 81.43L601.26 82.09L601.3 82.66L601.5 79.02L601.53 80.47L601.63 78.65L601.9 75.31L601.93 74.1L602.13 73.75L602.16 75.39L602.23 74.35L602.33 73.57L602.4 74.72L602.43 72.15L602.56 72.44L602.6 73.86L602.9 69.41L602.93 67.18L603.03 69.64L603.16 67.42L603.26 68.41L603.53 73.03L603.56 72.31L603.6 73.06L603.63 73.96L603.83 71.8L603.86 73.2L603.96 71.65L604 72.16L604.2 68.81L604.23 69.47L604.3 73.14L604.46 67.48L604.53 68.32L604.57 67L604.67 66.51L604.73 68.86L604.8 66.79L604.9 65.52L605.03 68.16L605.2 63.99L605.23 61.18L605.37 59.33L605.47 61.79L605.5 61.69L605.6 60.5L605.63 61.39L605.87 56.96L605.9 54.76L606.07 56.45L606.17 52.76L606.2 54.24L606.3 52.76L606.34 53.83L606.4 50.52L606.54 50.71L606.57 49.52L606.6 50.32L606.8 47.24L606.87 47.82L606.9 48.64L607 48.86L607.1 43.63L607.14 43.64L607.24 44.15L607.3 47.1L607.5 44.65L607.54 45.12L607.57 48.8L607.84 46.43L607.94 46.7L607.97 44.46L608.17 49.21L608.21 49.27L608.24 47.57L608.51 52.64L608.54 52.74L608.74 46.83L608.77 47.2L608.87 44.86L608.91 46.86L609.17 43.3L609.21 41.45L609.41 44.14L609.47 40.75L609.57 41.35L609.61 41.98L609.71 39.8L609.81 41.77L609.84 41.86L610.04 42.68L610.11 40.24L610.14 41.79L610.18 39.28L610.31 37.47L610.41 39.07L610.51 38.52L610.58 45.09L610.81 43.7L610.84 43.97L611.01 41.06L611.11 43.81L611.21 41.84L611.35 47.16L611.48 45.81L611.51 44.5L611.71 43.94L611.81 46.54L611.91 47.74L611.98 50.03L612.15 49.17L612.18 47.4L612.21 48.85L612.28 43.7L612.45 46.77L612.48 47.32L612.75 37.84L612.85 38.77L612.88 38.81L613.12 34.41L613.15 36.11L613.32 31.41L613.45 36.22L613.55 36.26L613.78 42.87L613.82 44.21L614.12 48.71L614.15 47.83L614.25 48.6L614.35 44.02L614.38 44.16L614.48 42.32L614.75 38.58L614.79 38.87L614.82 37.35L614.99 32.02L615.09 34.7L615.19 31.47L615.32 35.84L615.42 34.05L615.45 34.95L615.49 32.87L615.72 40.04L615.75 39.21L615.79 41.11L615.89 39.97L615.99 41.38L616.02 41.3L616.12 41L616.22 44.52L616.42 44.26L616.45 46.28L616.72 52.27L616.82 51.69L617.09 53.24L617.12 50.1L617.42 43.01L617.52 42.78L617.62 42.83L617.66 41.31L617.76 42.11L617.79 42L617.86 43.32L618.02 39.98L618.06 42.57L618.09 42.36L618.36 46.87L618.46 48.76L618.69 53.45L618.73 53.14L618.76 51.86L619.03 55.86L619.06 55.85L619.16 57.19L619.19 54.83L619.26 59.6L619.39 59.23L619.43 59.08L619.49 56.8L619.73 65.32L619.76 63.61L620 56.02L620.1 55.7L620.2 52.16L620.4 62.96L620.43 66.25L620.7 77.39L620.8 76.22L621.03 68.76L621.06 68.22L621.26 66.12L621.36 67.16L621.4 67.69L621.63 61.92L621.73 63.88L622.03 59.34L622.07 57.82L622.33 51.38L622.43 49.81L622.47 51.21L622.7 46.91L622.73 48.51L623 59.67L623.03 59.35L623.13 60.82L623.37 64.41L623.4 62.96L623.44 62.5L623.64 67.23L623.67 66.89L623.7 70.15L623.74 70.15L623.97 77.49L624.07 78.59L624.1 78.28L624.2 81.79L624.34 79.52L624.37 78.03L624.67 66.47L624.77 66.05L624.9 59.8L625.01 60.16L625.04 61.89L625.11 63.37L625.34 52.2L625.37 49.28L625.54 52.02L625.61 51.27L625.71 51.08L626.01 44.65L626.04 46.55L626.17 42.44L626.31 48.93L626.41 50.28L626.54 48.68L626.64 50.57L626.67 51.84L626.71 51.5L626.98 54.33L627.01 54.99L627.14 52.58L627.24 55.62L627.34 54.67L627.38 57.51L627.64 51.21L627.68 51.88L627.71 51.78L627.84 53.09L627.94 52.37L628.04 52.42L628.31 47.36L628.34 48.89L628.61 52.86L628.65 50.93L628.75 52.08L628.85 51.9L628.98 54.89L629.01 56L629.05 55.03L629.28 57.22L629.31 58.3L629.48 62.1L629.58 61.32L629.68 60.27L629.75 61.26L629.95 58.64L629.98 57.92L630.01 58.76L630.28 52.56L630.38 53.89L630.42 54.33L630.62 50.67L630.65 51.78L630.72 50.22L630.92 52.63L630.95 52.57L630.98 50.66L631.22 46.66L631.32 47.43L631.35 47.19L631.62 51L631.65 49L631.82 47.05L631.92 49.45L632.02 50.32L632.25 54.66L632.29 52.86L632.32 54.91L632.59 51.69L632.62 50.24L632.85 51.72L632.95 52.54L632.99 53.01L633.25 48.99L633.29 47.1L633.56 45.16L633.66 44.53L633.79 46.48L633.92 41.89L633.96 42.84L634.12 43.58L634.19 41.47L634.26 42.78L634.36 42.08L634.42 41.53L634.49 45.54L634.59 43.47L634.62 45.34L634.86 40.35L634.89 43.83L634.92 43.46L635.19 40.13L635.29 41.1L635.39 44.46L635.56 42.47L635.59 42.1L635.89 49.06L635.99 48.97L636.13 51.49L636.23 48.85L636.26 47.39L636.29 46.87L636.56 55.74L636.59 53.91L636.76 51.93L636.83 54.64L636.93 52.88L637.03 56.12L637.23 55.39L637.26 56.73L637.3 58.92L637.5 52.97L637.53 54.37L637.63 53.33L637.76 47.32L637.86 48.85L637.9 47.06L638.2 39.88L638.23 38.76L638.46 35.42L638.56 32.71L638.63 34.2L638.8 32.36L638.87 32.59L638.9 32.1L639.17 26.43L639.27 27.02L639.33 25.9L639.37 27.77L639.4 27.63" fill="none" stroke="#ff0000" stroke-width="1.55" stroke-linejoin="round"/><line x1="383.5" y1="172.5" x2="639.5" y2="172.5" stroke="#0000ff" stroke-width="1.2" stroke-dasharray="4.2 1.889"/><path clip-path="url(#cb)" d="M388.3 158.9C388.43 159.18 388.77 159.7 389.1 160.6C389.43 161.5 389.9 163.37 390.3 164.3C390.7 165.23 390.9 165.72 391.5 166.2C392.1 166.68 393.08 167.12 393.9 167.2C394.72 167.28 395.58 166.78 396.4 166.7C397.22 166.62 398 166.62 398.8 166.7C399.6 166.78 400.4 167.08 401.2 167.2C402 167.32 402.78 167.28 403.6 167.4C404.42 167.52 405.28 167.9 406.1 167.9C406.92 167.9 407.7 167.6 408.5 167.4C409.3 167.2 410.08 166.7 410.9 166.7C411.72 166.7 412.58 167.2 413.4 167.4C414.22 167.6 415 167.73 415.8 167.9C416.6 168.07 417.4 168.32 418.2 168.4C419 168.48 419.78 168.48 420.6 168.4C421.42 168.32 422.4 168.18 423.1 167.9C423.8 167.62 424.28 166.98 424.8 166.7C425.32 166.42 425.68 166 426.2 166.2C426.72 166.4 427.42 167.42 427.9 167.9C428.38 168.38 428.57 168.82 429.1 169.1C429.63 169.38 430.48 169.6 431.1 169.6C431.72 169.6 432.23 169.5 432.8 169.1C433.37 168.7 433.93 167.82 434.5 167.2C435.07 166.58 435.65 166 436.2 165.4C436.75 164.8 437.23 164.35 437.8 163.6C438.37 162.85 438.98 161.8 439.6 160.9C440.22 160 440.88 158.95 441.5 158.2C442.12 157.45 442.7 156.85 443.3 156.4C443.9 155.95 444.5 155.72 445.1 155.5C445.7 155.28 446.37 155.3 446.9 155.1C447.43 154.9 447.92 154.98 448.3 154.3C448.68 153.62 448.9 154.67 449.2 151C449.5 147.33 449.77 138.72 450.1 132.3C450.43 125.88 450.85 119.22 451.2 112.5C451.55 105.78 451.88 98.42 452.2 92C452.52 85.58 452.82 79.08 453.1 74C453.38 68.92 453.65 64.38 453.9 61.5C454.15 58.62 454.35 56.7 454.6 56.7C454.85 56.7 455.12 58.62 455.4 61.5C455.68 64.38 455.97 69.25 456.3 74C456.63 78.75 456.93 83.58 457.4 90C457.87 96.42 458.58 105 459.1 112.5C459.62 120 460.03 128.88 460.5 135C460.97 141.12 461.43 145.67 461.9 149.2C462.37 152.73 462.85 154.32 463.3 156.2C463.75 158.08 464.15 159.42 464.6 160.5C465.05 161.58 465.47 162.25 466 162.7C466.53 163.15 467.2 163.45 467.8 163.2C468.4 162.95 468.92 162.13 469.6 161.2C470.28 160.27 471.23 158.4 471.9 157.6C472.57 156.8 473.03 156.18 473.6 156.4C474.17 156.62 474.77 157.68 475.3 158.9C475.83 160.12 476.27 162.48 476.8 163.7C477.33 164.92 477.82 165.78 478.5 166.2C479.18 166.62 480.08 166.62 480.9 166.2C481.72 165.78 482.7 164.92 483.4 163.7C484.1 162.48 484.58 161.12 485.1 158.9C485.62 156.68 486.02 152.83 486.5 150.4C486.98 147.97 487.6 145.52 488 144.3C488.4 143.08 488.53 142.9 488.9 143.1C489.27 143.3 489.78 144.08 490.2 145.5C490.62 146.92 490.92 149.17 491.4 151.6C491.88 154.03 492.53 158.08 493.1 160.1C493.67 162.12 494.2 162.9 494.8 163.7C495.4 164.5 495.98 164.7 496.7 164.9C497.42 165.1 498.28 164.68 499.1 164.9C499.92 165.12 500.78 165.87 501.6 166.2C502.42 166.53 503.2 166.7 504 166.9C504.8 167.1 505.58 167.28 506.4 167.4C507.22 167.52 508.08 167.57 508.9 167.6C509.72 167.63 510.5 167.63 511.3 167.6C512.1 167.57 512.9 167.43 513.7 167.4C514.5 167.37 515.28 167.37 516.1 167.4C516.92 167.43 517.78 167.48 518.6 167.6C519.42 167.72 520.2 168.07 521 168.1C521.8 168.13 522.65 168.05 523.4 167.8C524.15 167.55 524.83 166.95 525.5 166.6C526.17 166.25 526.67 166.07 527.4 165.7C528.13 165.33 529.17 164.53 529.9 164.4C530.63 164.27 531.2 165.02 531.8 164.9C532.4 164.78 532.82 164.3 533.5 163.7C534.18 163.1 535.08 162.1 535.9 161.3C536.72 160.5 537.7 159.38 538.4 158.9C539.1 158.42 539.5 158.2 540.1 158.4C540.7 158.6 541.28 159.22 542 160.1C542.72 160.98 543.58 162.68 544.4 163.7C545.22 164.72 546.08 165.58 546.9 166.2C547.72 166.82 548.5 167 549.3 167.4C550.1 167.8 550.9 168.23 551.7 168.6C552.5 168.97 553.28 169.32 554.1 169.6C554.92 169.88 555.78 170.15 556.6 170.3C557.42 170.45 558.2 170.47 559 170.5C559.8 170.53 560.8 170.62 561.4 170.5C562 170.38 562.18 170.52 562.6 169.8C563.02 169.08 563.37 167.62 563.9 166.2C564.43 164.78 565.2 162.6 565.8 161.3C566.4 160 567.02 158.8 567.5 158.4C567.98 158 568.3 158.22 568.7 158.9C569.1 159.58 569.5 161.5 569.9 162.5C570.3 163.5 570.62 164.7 571.1 164.9C571.58 165.1 572.18 164.7 572.8 163.7C573.42 162.7 574.15 160.2 574.8 158.9C575.45 157.6 576.1 156.12 576.7 155.9C577.3 155.68 577.78 156.5 578.4 157.6C579.02 158.7 579.78 161.38 580.4 162.5C581.02 163.62 581.5 164.3 582.1 164.3C582.7 164.3 583.33 162.88 584 162.5C584.67 162.12 585.45 161.92 586.1 162C586.75 162.08 587.37 163.28 587.9 163C588.43 162.72 588.97 162.07 589.3 160.3C589.63 158.53 589.68 157.23 589.9 152.4C590.12 147.57 590.43 139.2 590.6 131.3C590.77 123.4 590.7 112.88 590.9 105C591.1 97.12 591.55 90.17 591.8 84C592.05 77.83 592.18 72.23 592.4 68C592.62 63.77 592.87 58.6 593.1 58.6C593.33 58.6 593.55 63.77 593.8 68C594.05 72.23 594.33 77.83 594.6 84C594.87 90.17 595.2 97.12 595.4 105C595.6 112.88 595.6 124.28 595.8 131.3C596 138.32 596.28 143.15 596.6 147.1C596.92 151.05 597.25 153.03 597.7 155C598.15 156.97 598.73 157.82 599.3 158.9C599.87 159.98 600.48 160.68 601.1 161.5C601.72 162.32 602.35 163.13 603 163.8C603.65 164.47 604.33 165.05 605 165.5C605.67 165.95 606.4 166.3 607 166.5C607.6 166.7 608.08 166.78 608.6 166.7C609.12 166.62 609.52 166.57 610.1 166C610.68 165.43 611.43 164.25 612.1 163.3C612.77 162.35 613.42 161.3 614.1 160.3C614.78 159.3 615.52 158.13 616.2 157.3C616.88 156.47 617.53 155.88 618.2 155.3C618.87 154.72 619.53 153.98 620.2 153.8C620.87 153.62 621.6 153.95 622.2 154.2C622.8 154.45 623.28 154.62 623.8 155.3C624.32 155.98 624.72 157.13 625.3 158.3C625.88 159.47 626.63 161.12 627.3 162.3C627.97 163.48 628.63 164.62 629.3 165.4C629.97 166.18 630.63 166.6 631.3 167C631.97 167.4 632.73 167.57 633.3 167.8C633.87 168.03 634.47 168.3 634.7 168.4" fill="none" stroke="#0000ff" stroke-width="1.4" stroke-linejoin="round"/><rect x="383" y="11" width="257" height="2" fill="#787878"/><rect x="383" y="225" width="257" height="2" fill="#737373"/><rect x="383" y="11" width="1" height="216" fill="#484848"/><rect x="384" y="11" width="1" height="216" fill="#000" fill-opacity="0.12"/><rect x="639" y="11" width="1" height="216" fill="#505050"/><line x1="381.0" y1="226" x2="383.5" y2="226" stroke="#000" stroke-width="0.7"/><text x="513.87 519.37 524.86 530.35" y="228.55" text-anchor="middle" fill="#ff0000" stroke="#ff0000" stroke-width="0.25" font-size="7.9" font-family='"Liberation Sans", sans-serif' transform="scale(0.7100 1)">5000</text><line x1="381.0" y1="195.43" x2="383.5" y2="195.43" stroke="#000" stroke-width="0.7"/><text x="508.38 513.87 519.37 524.86 530.35" y="197.98" text-anchor="middle" fill="#ff0000" stroke="#ff0000" stroke-width="0.25" font-size="7.9" font-family='"Liberation Sans", sans-serif' transform="scale(0.7100 1)">10000</text><line x1="381.0" y1="164.86" x2="383.5" y2="164.86" stroke="#000" stroke-width="0.7"/><text x="508.38 513.87 519.37 524.86 530.35" y="167.41" text-anchor="middle" fill="#ff0000" stroke="#ff0000" stroke-width="0.25" font-size="7.9" font-family='"Liberation Sans", sans-serif' transform="scale(0.7100 1)">15000</text><line x1="381.0" y1="134.29" x2="383.5" y2="134.29" stroke="#000" stroke-width="0.7"/><text x="508.38 513.87 519.37 524.86 530.35" y="136.84" text-anchor="middle" fill="#ff0000" stroke="#ff0000" stroke-width="0.25" font-size="7.9" font-family='"Liberation Sans", sans-serif' transform="scale(0.7100 1)">20000</text><line x1="381.0" y1="103.71" x2="383.5" y2="103.71" stroke="#000" stroke-width="0.7"/><text x="508.38 513.87 519.37 524.86 530.35" y="106.26" text-anchor="middle" fill="#ff0000" stroke="#ff0000" stroke-width="0.25" font-size="7.9" font-family='"Liberation Sans", sans-serif' transform="scale(0.7100 1)">25000</text><line x1="381.0" y1="73.14" x2="383.5" y2="73.14" stroke="#000" stroke-width="0.7"/><text x="508.38 513.87 519.37 524.86 530.35" y="75.69" text-anchor="middle" fill="#ff0000" stroke="#ff0000" stroke-width="0.25" font-size="7.9" font-family='"Liberation Sans", sans-serif' transform="scale(0.7100 1)">30000</text><line x1="381.0" y1="42.57" x2="383.5" y2="42.57" stroke="#000" stroke-width="0.7"/><text x="508.38 513.87 519.37 524.86 530.35" y="45.12" text-anchor="middle" fill="#ff0000" stroke="#ff0000" stroke-width="0.25" font-size="7.9" font-family='"Liberation Sans", sans-serif' transform="scale(0.7100 1)">35000</text><line x1="381.0" y1="12" x2="383.5" y2="12" stroke="#000" stroke-width="0.7"/><text x="508.38 513.87 519.37 524.86 530.35" y="14.55" text-anchor="middle" fill="#ff0000" stroke="#ff0000" stroke-width="0.25" font-size="7.9" font-family='"Liberation Sans", sans-serif' transform="scale(0.7100 1)">40000</text><line x1="639.5" y1="12" x2="642.0" y2="12" stroke="#000" stroke-width="0.7"/><text x="934.61 938.66 945.88 951.52 957.15 962.79 968.42" y="14.7" text-anchor="middle" fill="#000" stroke="#000" stroke-width="0.25" font-size="8.1" font-family='"Liberation Sans", sans-serif' transform="scale(0.6920 1)">0.00150</text><line x1="639.5" y1="38.75" x2="642.0" y2="38.75" stroke="#000" stroke-width="0.7"/><text x="934.61 938.66 945.88 951.52 957.15 962.79 968.42" y="41.45" text-anchor="middle" fill="#000" stroke="#000" stroke-width="0.25" font-size="8.1" font-family='"Liberation Sans", sans-serif' transform="scale(0.6920 1)">0.00125</text><line x1="639.5" y1="65.5" x2="642.0" y2="65.5" stroke="#000" stroke-width="0.7"/><text x="934.61 938.66 945.88 951.52 957.15 962.79 968.42" y="68.2" text-anchor="middle" fill="#000" stroke="#000" stroke-width="0.25" font-size="8.1" font-family='"Liberation Sans", sans-serif' transform="scale(0.6920 1)">0.00100</text><line x1="639.5" y1="92.25" x2="642.0" y2="92.25" stroke="#000" stroke-width="0.7"/><text x="934.61 938.66 945.88 951.52 957.15 962.79 968.42" y="94.95" text-anchor="middle" fill="#000" stroke="#000" stroke-width="0.25" font-size="8.1" font-family='"Liberation Sans", sans-serif' transform="scale(0.6920 1)">0.00075</text><line x1="639.5" y1="119" x2="642.0" y2="119" stroke="#000" stroke-width="0.7"/><text x="934.61 938.66 945.88 951.52 957.15 962.79 968.42" y="121.7" text-anchor="middle" fill="#000" stroke="#000" stroke-width="0.25" font-size="8.1" font-family='"Liberation Sans", sans-serif' transform="scale(0.6920 1)">0.00050</text><line x1="639.5" y1="145.75" x2="642.0" y2="145.75" stroke="#000" stroke-width="0.7"/><text x="934.61 938.66 945.88 951.52 957.15 962.79 968.42" y="148.45" text-anchor="middle" fill="#000" stroke="#000" stroke-width="0.25" font-size="8.1" font-family='"Liberation Sans", sans-serif' transform="scale(0.6920 1)">0.00025</text><line x1="639.5" y1="172.5" x2="642.0" y2="172.5" stroke="#000" stroke-width="0.7"/><text x="934.61 938.66 945.88 951.52 957.15 962.79 968.42" y="175.2" text-anchor="middle" fill="#000" stroke="#000" stroke-width="0.25" font-size="8.1" font-family='"Liberation Sans", sans-serif' transform="scale(0.6920 1)">0.00000</text><line x1="639.5" y1="199.25" x2="642.0" y2="199.25" stroke="#000" stroke-width="0.7"/><text x="934.61 940.25 944.29 951.52 957.15 962.79 968.42 974.06" y="201.95" text-anchor="middle" fill="#000" stroke="#000" stroke-width="0.25" font-size="8.1" font-family='"Liberation Sans", sans-serif' transform="scale(0.6920 1)"><tspan font-size="6.48">−</tspan>0.00025</text><line x1="639.5" y1="226" x2="642.0" y2="226" stroke="#000" stroke-width="0.7"/><text x="934.61 940.25 944.29 951.52 957.15 962.79 968.42 974.06" y="228.7" text-anchor="middle" fill="#000" stroke="#000" stroke-width="0.25" font-size="8.1" font-family='"Liberation Sans", sans-serif' transform="scale(0.6920 1)"><tspan font-size="6.48">−</tspan>0.00050</text><line x1="395.69" y1="226.0" x2="395.69" y2="228.5" stroke="#000" stroke-width="0.7"/><text x="604.52 610.49 616.46 622.43" y="236.9" text-anchor="middle" fill="#000" stroke="#000" stroke-width="0.25" font-size="8.7" font-family='"Liberation Sans", sans-serif' transform="scale(0.6450 1)">2004</text><line x1="444.45" y1="226.0" x2="444.45" y2="228.5" stroke="#000" stroke-width="0.7"/><text x="680.12 686.09 692.06 698.03" y="236.9" text-anchor="middle" fill="#000" stroke="#000" stroke-width="0.25" font-size="8.7" font-family='"Liberation Sans", sans-serif' transform="scale(0.6450 1)">2008</text><line x1="493.21" y1="226.0" x2="493.21" y2="228.5" stroke="#000" stroke-width="0.7"/><text x="755.72 761.69 767.66 773.63" y="236.9" text-anchor="middle" fill="#000" stroke="#000" stroke-width="0.25" font-size="8.7" font-family='"Liberation Sans", sans-serif' transform="scale(0.6450 1)">2012</text><line x1="541.98" y1="226.0" x2="541.98" y2="228.5" stroke="#000" stroke-width="0.7"/><text x="831.32 837.29 843.26 849.23" y="236.9" text-anchor="middle" fill="#000" stroke="#000" stroke-width="0.25" font-size="8.7" font-family='"Liberation Sans", sans-serif' transform="scale(0.6450 1)">2016</text><line x1="590.74" y1="226.0" x2="590.74" y2="228.5" stroke="#000" stroke-width="0.7"/><text x="906.92 912.89 918.86 924.83" y="236.9" text-anchor="middle" fill="#000" stroke="#000" stroke-width="0.25" font-size="8.7" font-family='"Liberation Sans", sans-serif' transform="scale(0.6450 1)">2020</text><line x1="639.5" y1="226.0" x2="639.5" y2="228.5" stroke="#000" stroke-width="0.7"/><text x="982.52 988.49 994.46 1000.43" y="236.9" text-anchor="middle" fill="#000" stroke="#000" stroke-width="0.25" font-size="8.7" font-family='"Liberation Sans", sans-serif' transform="scale(0.6450 1)">2024</text><text x="596.59 601.76 606.94" y="6.3 7.7 6.3" text-anchor="middle" fill="#000" stroke="#000" stroke-width="0.25" font-size="9.0" font-family='"Liberation Sans", sans-serif' transform="scale(0.8500 1)">(b)</text><text x="665.56 670.62 675.69 680.76" y="246.9" text-anchor="middle" fill="#000" stroke="#000" stroke-width="0.25" font-size="8.6" font-family='"Liberation Sans", sans-serif' font-weight="bold" transform="scale(0.7600 1)">year</text><text x="-40.6 -36.09 -31.58 -27.07 -22.56 -18.05 -13.53 -9.02 -4.51 0 4.51 9.02 13.53 18.05 22.56 27.07 31.58 36.09 40.6" y="0" text-anchor="middle" fill="#ff0000" stroke="#ff0000" stroke-width="0.25" font-size="7.4" font-family='"Liberation Sans", sans-serif' transform="translate(354.9 118.7) rotate(-90) scale(0.8600 1)">daily closing price</text><text x="-57.44 -53.02 -48.6 -44.19 -39.77 -35.35 -30.93 -26.51 -22.09 -17.67 -13.26 -8.84 -4.42 0 4.42 8.84 13.26 17.67 22.09 26.51 30.93 35.35 39.77 44.19 48.6 53.02 57.44" y="0" text-anchor="middle" fill="#000" stroke="#000" stroke-width="0.25" font-size="7.4" font-family='"Liberation Sans", sans-serif' transform="translate(683.8 118.3) rotate(-90) scale(0.8600 1)">integrated quasi<tspan font-size="5.92">−</tspan>derivative</text></svg>
</body></html>
